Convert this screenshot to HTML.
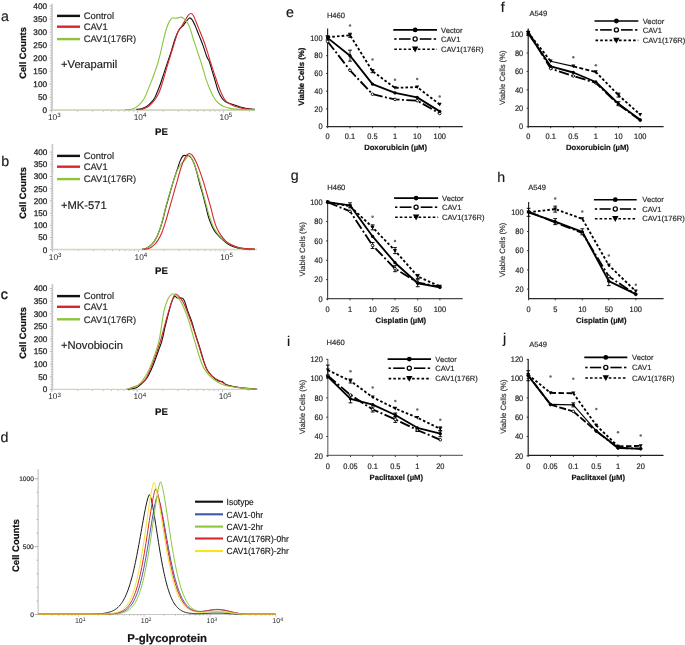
<!DOCTYPE html>
<html><head><meta charset="utf-8"><style>
html,body{margin:0;padding:0;background:#fff;}
svg{display:block;font-family:"Liberation Sans", sans-serif;will-change:transform;text-rendering:geometricPrecision;}
</style></head><body>
<svg width="685" height="645" viewBox="0 0 685 645">
<rect width="685" height="645" fill="#fff"/>
<text x="1.0" y="21.0" font-size="14.2" text-anchor="start" font-weight="normal" fill="#1a1a1a"  stroke="#1a1a1a" stroke-width="0.18">a</text>
<text x="1.3" y="165.8" font-size="14.2" text-anchor="start" font-weight="normal" fill="#1a1a1a"  stroke="#1a1a1a" stroke-width="0.18">b</text>
<text x="0.8" y="298.6" font-size="14.2" text-anchor="start" font-weight="normal" fill="#1a1a1a" stroke="#1a1a1a" stroke-width="0.45">c</text>
<text x="0.4" y="441.9" font-size="14.2" text-anchor="start" font-weight="normal" fill="#1a1a1a"  stroke="#1a1a1a" stroke-width="0.18">d</text>
<text x="286.0" y="16.9" font-size="14.2" text-anchor="start" font-weight="normal" fill="#1a1a1a"  stroke="#1a1a1a" stroke-width="0.18">e</text>
<text x="500.8" y="12.2" font-size="14.2" text-anchor="start" font-weight="normal" fill="#1a1a1a"  stroke="#1a1a1a" stroke-width="0.18">f</text>
<text x="290.8" y="180.3" font-size="14.2" text-anchor="start" font-weight="normal" fill="#1a1a1a"  stroke="#1a1a1a" stroke-width="0.18">g</text>
<text x="497.2" y="182.1" font-size="14.2" text-anchor="start" font-weight="normal" fill="#1a1a1a"  stroke="#1a1a1a" stroke-width="0.18">h</text>
<text x="286.9" y="345.8" font-size="14.2" text-anchor="start" font-weight="normal" fill="#1a1a1a"  stroke="#1a1a1a" stroke-width="0.18">i</text>
<text x="503.0" y="342.7" font-size="14.2" text-anchor="start" font-weight="normal" fill="#1a1a1a"  stroke="#1a1a1a" stroke-width="0.18">j</text>
<line x1="49.60" y1="110.20" x2="52.00" y2="110.20" stroke="#6a6a6a" stroke-width="0.55" />
<line x1="50.40" y1="107.60" x2="52.00" y2="107.60" stroke="#6a6a6a" stroke-width="0.55" />
<line x1="50.40" y1="105.00" x2="52.00" y2="105.00" stroke="#6a6a6a" stroke-width="0.55" />
<line x1="50.40" y1="102.39" x2="52.00" y2="102.39" stroke="#6a6a6a" stroke-width="0.55" />
<line x1="50.40" y1="99.79" x2="52.00" y2="99.79" stroke="#6a6a6a" stroke-width="0.55" />
<line x1="49.60" y1="97.19" x2="52.00" y2="97.19" stroke="#6a6a6a" stroke-width="0.55" />
<line x1="50.40" y1="94.59" x2="52.00" y2="94.59" stroke="#6a6a6a" stroke-width="0.55" />
<line x1="50.40" y1="91.98" x2="52.00" y2="91.98" stroke="#6a6a6a" stroke-width="0.55" />
<line x1="50.40" y1="89.38" x2="52.00" y2="89.38" stroke="#6a6a6a" stroke-width="0.55" />
<line x1="50.40" y1="86.78" x2="52.00" y2="86.78" stroke="#6a6a6a" stroke-width="0.55" />
<line x1="49.60" y1="84.17" x2="52.00" y2="84.17" stroke="#6a6a6a" stroke-width="0.55" />
<line x1="50.40" y1="81.57" x2="52.00" y2="81.57" stroke="#6a6a6a" stroke-width="0.55" />
<line x1="50.40" y1="78.97" x2="52.00" y2="78.97" stroke="#6a6a6a" stroke-width="0.55" />
<line x1="50.40" y1="76.37" x2="52.00" y2="76.37" stroke="#6a6a6a" stroke-width="0.55" />
<line x1="50.40" y1="73.77" x2="52.00" y2="73.77" stroke="#6a6a6a" stroke-width="0.55" />
<line x1="49.60" y1="71.16" x2="52.00" y2="71.16" stroke="#6a6a6a" stroke-width="0.55" />
<line x1="50.40" y1="68.56" x2="52.00" y2="68.56" stroke="#6a6a6a" stroke-width="0.55" />
<line x1="50.40" y1="65.96" x2="52.00" y2="65.96" stroke="#6a6a6a" stroke-width="0.55" />
<line x1="50.40" y1="63.35" x2="52.00" y2="63.35" stroke="#6a6a6a" stroke-width="0.55" />
<line x1="50.40" y1="60.75" x2="52.00" y2="60.75" stroke="#6a6a6a" stroke-width="0.55" />
<line x1="49.60" y1="58.15" x2="52.00" y2="58.15" stroke="#6a6a6a" stroke-width="0.55" />
<line x1="50.40" y1="55.55" x2="52.00" y2="55.55" stroke="#6a6a6a" stroke-width="0.55" />
<line x1="50.40" y1="52.94" x2="52.00" y2="52.94" stroke="#6a6a6a" stroke-width="0.55" />
<line x1="50.40" y1="50.34" x2="52.00" y2="50.34" stroke="#6a6a6a" stroke-width="0.55" />
<line x1="50.40" y1="47.74" x2="52.00" y2="47.74" stroke="#6a6a6a" stroke-width="0.55" />
<line x1="49.60" y1="45.14" x2="52.00" y2="45.14" stroke="#6a6a6a" stroke-width="0.55" />
<line x1="50.40" y1="42.53" x2="52.00" y2="42.53" stroke="#6a6a6a" stroke-width="0.55" />
<line x1="50.40" y1="39.93" x2="52.00" y2="39.93" stroke="#6a6a6a" stroke-width="0.55" />
<line x1="50.40" y1="37.33" x2="52.00" y2="37.33" stroke="#6a6a6a" stroke-width="0.55" />
<line x1="50.40" y1="34.73" x2="52.00" y2="34.73" stroke="#6a6a6a" stroke-width="0.55" />
<line x1="49.60" y1="32.12" x2="52.00" y2="32.12" stroke="#6a6a6a" stroke-width="0.55" />
<line x1="50.40" y1="29.52" x2="52.00" y2="29.52" stroke="#6a6a6a" stroke-width="0.55" />
<line x1="50.40" y1="26.92" x2="52.00" y2="26.92" stroke="#6a6a6a" stroke-width="0.55" />
<line x1="50.40" y1="24.32" x2="52.00" y2="24.32" stroke="#6a6a6a" stroke-width="0.55" />
<line x1="50.40" y1="21.71" x2="52.00" y2="21.71" stroke="#6a6a6a" stroke-width="0.55" />
<line x1="49.60" y1="19.11" x2="52.00" y2="19.11" stroke="#6a6a6a" stroke-width="0.55" />
<line x1="50.40" y1="16.51" x2="52.00" y2="16.51" stroke="#6a6a6a" stroke-width="0.55" />
<line x1="50.40" y1="13.91" x2="52.00" y2="13.91" stroke="#6a6a6a" stroke-width="0.55" />
<line x1="50.40" y1="11.30" x2="52.00" y2="11.30" stroke="#6a6a6a" stroke-width="0.55" />
<line x1="50.40" y1="8.70" x2="52.00" y2="8.70" stroke="#6a6a6a" stroke-width="0.55" />
<line x1="49.60" y1="6.10" x2="52.00" y2="6.10" stroke="#6a6a6a" stroke-width="0.55" />
<line x1="52.00" y1="3.70" x2="52.00" y2="110.20" stroke="#c8c8c8" stroke-width="1.7" />
<line x1="51.70" y1="110.20" x2="51.70" y2="112.70" stroke="#a0a0a0" stroke-width="0.7" />
<line x1="77.53" y1="110.20" x2="77.53" y2="111.70" stroke="#a0a0a0" stroke-width="0.7" />
<line x1="92.64" y1="110.20" x2="92.64" y2="111.70" stroke="#a0a0a0" stroke-width="0.7" />
<line x1="103.36" y1="110.20" x2="103.36" y2="111.70" stroke="#a0a0a0" stroke-width="0.7" />
<line x1="111.67" y1="110.20" x2="111.67" y2="111.70" stroke="#a0a0a0" stroke-width="0.7" />
<line x1="118.47" y1="110.20" x2="118.47" y2="111.70" stroke="#a0a0a0" stroke-width="0.7" />
<line x1="124.21" y1="110.20" x2="124.21" y2="111.70" stroke="#a0a0a0" stroke-width="0.7" />
<line x1="129.19" y1="110.20" x2="129.19" y2="111.70" stroke="#a0a0a0" stroke-width="0.7" />
<line x1="133.57" y1="110.20" x2="133.57" y2="111.70" stroke="#a0a0a0" stroke-width="0.7" />
<line x1="137.50" y1="110.20" x2="137.50" y2="112.70" stroke="#a0a0a0" stroke-width="0.7" />
<line x1="163.33" y1="110.20" x2="163.33" y2="111.70" stroke="#a0a0a0" stroke-width="0.7" />
<line x1="178.44" y1="110.20" x2="178.44" y2="111.70" stroke="#a0a0a0" stroke-width="0.7" />
<line x1="189.16" y1="110.20" x2="189.16" y2="111.70" stroke="#a0a0a0" stroke-width="0.7" />
<line x1="197.47" y1="110.20" x2="197.47" y2="111.70" stroke="#a0a0a0" stroke-width="0.7" />
<line x1="204.27" y1="110.20" x2="204.27" y2="111.70" stroke="#a0a0a0" stroke-width="0.7" />
<line x1="210.01" y1="110.20" x2="210.01" y2="111.70" stroke="#a0a0a0" stroke-width="0.7" />
<line x1="214.99" y1="110.20" x2="214.99" y2="111.70" stroke="#a0a0a0" stroke-width="0.7" />
<line x1="219.37" y1="110.20" x2="219.37" y2="111.70" stroke="#a0a0a0" stroke-width="0.7" />
<line x1="223.30" y1="110.20" x2="223.30" y2="112.70" stroke="#a0a0a0" stroke-width="0.7" />
<line x1="249.13" y1="110.20" x2="249.13" y2="111.70" stroke="#a0a0a0" stroke-width="0.7" />
<line x1="52.00" y1="110.20" x2="255.00" y2="110.20" stroke="#c8c8c8" stroke-width="1.2" />
<text x="47.0" y="113.0" font-size="8.2" text-anchor="end" font-weight="normal" fill="#1a1a1a" stroke="#1a1a1a" stroke-width="0.25">0</text>
<text x="47.0" y="100.0" font-size="8.2" text-anchor="end" font-weight="normal" fill="#1a1a1a" stroke="#1a1a1a" stroke-width="0.25">50</text>
<text x="47.0" y="87.0" font-size="8.2" text-anchor="end" font-weight="normal" fill="#1a1a1a" stroke="#1a1a1a" stroke-width="0.25">100</text>
<text x="47.0" y="74.0" font-size="8.2" text-anchor="end" font-weight="normal" fill="#1a1a1a" stroke="#1a1a1a" stroke-width="0.25">150</text>
<text x="47.0" y="61.0" font-size="8.2" text-anchor="end" font-weight="normal" fill="#1a1a1a" stroke="#1a1a1a" stroke-width="0.25">200</text>
<text x="47.0" y="48.0" font-size="8.2" text-anchor="end" font-weight="normal" fill="#1a1a1a" stroke="#1a1a1a" stroke-width="0.25">250</text>
<text x="47.0" y="34.9" font-size="8.2" text-anchor="end" font-weight="normal" fill="#1a1a1a" stroke="#1a1a1a" stroke-width="0.25">300</text>
<text x="47.0" y="21.9" font-size="8.2" text-anchor="end" font-weight="normal" fill="#1a1a1a" stroke="#1a1a1a" stroke-width="0.25">350</text>
<text x="47.0" y="8.9" font-size="8.2" text-anchor="end" font-weight="normal" fill="#1a1a1a" stroke="#1a1a1a" stroke-width="0.25">400</text>
<text x="54.3" y="120.0" font-size="8.3" text-anchor="middle" fill="#1e1e1e">10<tspan font-size="6.2" dy="-2.8">3</tspan></text>
<text x="140.1" y="120.0" font-size="8.3" text-anchor="middle" fill="#1e1e1e">10<tspan font-size="6.2" dy="-2.8">4</tspan></text>
<text x="225.9" y="120.0" font-size="8.3" text-anchor="middle" fill="#1e1e1e">10<tspan font-size="6.2" dy="-2.8">5</tspan></text>
<line x1="57.00" y1="15.90" x2="80.00" y2="15.90" stroke="#111" stroke-width="2.4" />
<text x="83.8" y="19.1" font-size="9.4" text-anchor="start" font-weight="normal" fill="#2a2a2a"  stroke="#2a2a2a" stroke-width="0.18">Control</text>
<line x1="57.00" y1="26.70" x2="80.00" y2="26.70" stroke="#d8262f" stroke-width="2.4" />
<text x="83.8" y="29.9" font-size="9.4" text-anchor="start" font-weight="normal" fill="#2a2a2a"  stroke="#2a2a2a" stroke-width="0.18">CAV1</text>
<line x1="57.00" y1="39.10" x2="80.00" y2="39.10" stroke="#8cc43c" stroke-width="2.4" />
<text x="83.8" y="42.3" font-size="9.4" text-anchor="start" font-weight="normal" fill="#2a2a2a"  stroke="#2a2a2a" stroke-width="0.18">CAV1(176R)</text>
<text x="61.0" y="67.5" font-size="11.2" text-anchor="start" font-weight="normal" fill="#222"  stroke="#222" stroke-width="0.18">+Verapamil</text>
<text x="161.4" y="134.7" font-size="9.6" text-anchor="middle" font-weight="bold" fill="#111"  stroke="#111" stroke-width="0.18">PE</text>
<text transform="translate(25.6,53.0) rotate(-90)" font-size="9.3" text-anchor="middle" font-weight="bold" fill="#111" stroke="#111" stroke-width="0.22">Cell Counts</text>
<line x1="52.80" y1="109.90" x2="255.00" y2="109.90" stroke="#d2dcb0" stroke-width="1.1" />
<path d="M136.39,109.38 C137.34,109.23 140.18,109.07 142.08,108.44 C143.98,107.80 145.88,107.01 147.77,105.59 C149.67,104.16 152.04,101.79 153.47,99.89 C154.89,98.00 155.21,96.73 156.32,94.20 C157.42,91.67 158.85,88.19 160.11,84.71 C161.38,81.23 162.64,77.12 163.91,73.32 C165.17,69.53 166.44,65.73 167.70,61.94 C168.97,58.14 170.23,54.50 171.50,50.55 C172.76,46.60 174.03,41.69 175.29,38.21 C176.56,34.73 177.82,31.73 179.09,29.67 C180.36,27.62 181.78,27.14 182.89,25.88 C183.99,24.61 184.63,23.41 185.73,22.08 C186.84,20.75 188.42,18.22 189.53,17.91 C190.64,17.59 191.43,18.85 192.38,20.18 C193.32,21.51 194.11,23.35 195.22,25.88 C196.33,28.41 197.75,32.20 199.02,35.37 C200.28,38.53 201.55,41.38 202.81,44.86 C204.08,48.34 205.50,53.40 206.61,56.24 C207.72,59.09 208.51,59.41 209.46,61.94 C210.41,64.47 211.35,68.26 212.30,71.43 C213.25,74.59 214.20,77.75 215.15,80.92 C216.10,84.08 216.89,87.56 218.00,90.41 C219.10,93.25 220.53,96.10 221.79,98.00 C223.06,99.89 224.01,100.78 225.59,101.79 C227.17,102.80 229.07,103.28 231.28,104.07 C233.50,104.86 236.34,105.81 238.87,106.54 C241.40,107.26 243.78,107.96 246.47,108.44 C249.15,108.91 253.58,109.23 255.01,109.38" fill="none" stroke="#111" stroke-width="1.1" stroke-linejoin="round"/>
<path d="M138.29,109.57 C139.23,109.42 142.08,109.29 143.98,108.62 C145.88,107.96 147.77,107.20 149.67,105.59 C151.57,103.98 153.78,101.16 155.37,98.95 C156.95,96.73 157.90,95.31 159.16,92.30 C160.43,89.30 161.69,85.03 162.96,80.92 C164.22,76.80 165.49,71.90 166.75,67.63 C168.02,63.36 169.28,59.41 170.55,55.29 C171.81,51.18 173.08,46.91 174.35,42.96 C175.61,39.00 176.88,34.42 178.14,31.57 C179.41,28.72 180.67,27.93 181.94,25.88 C183.20,23.82 184.63,21.07 185.73,19.23 C186.84,17.40 187.69,15.82 188.58,14.87 C189.47,13.92 190.26,13.45 191.05,13.54 C191.84,13.64 192.47,14.01 193.32,15.44 C194.18,16.86 195.06,19.39 196.17,22.08 C197.28,24.77 198.70,28.41 199.97,31.57 C201.23,34.73 202.50,37.58 203.76,41.06 C205.03,44.54 206.45,48.97 207.56,52.45 C208.67,55.93 209.30,58.46 210.41,61.94 C211.51,65.42 212.94,69.53 214.20,73.32 C215.47,77.12 216.73,81.23 218.00,84.71 C219.26,88.19 220.53,91.51 221.79,94.20 C223.06,96.89 224.01,99.10 225.59,100.84 C227.17,102.58 229.07,103.53 231.28,104.64 C233.50,105.75 236.34,106.76 238.87,107.49 C241.40,108.21 243.78,108.66 246.47,109.00 C249.15,109.35 253.58,109.48 255.01,109.57" fill="none" stroke="#d8262f" stroke-width="1.1" stroke-linejoin="round"/>
<path d="M125.00,109.76 C126.27,109.64 130.38,109.70 132.59,109.00 C134.81,108.31 136.39,107.26 138.29,105.59 C140.18,103.91 142.40,101.48 143.98,98.95 C145.56,96.42 146.51,93.41 147.77,90.41 C149.04,87.40 150.31,84.24 151.57,80.92 C152.84,77.59 154.26,73.64 155.37,70.48 C156.47,67.31 157.26,65.26 158.21,61.94 C159.16,58.62 160.11,54.50 161.06,50.55 C162.01,46.60 162.96,42.01 163.91,38.21 C164.86,34.42 165.80,30.62 166.75,27.77 C167.70,24.93 168.65,22.78 169.60,21.13 C170.55,19.49 171.50,18.38 172.45,17.91 C173.40,17.43 174.35,18.29 175.29,18.29 C176.24,18.29 177.19,18.10 178.14,17.91 C179.09,17.72 180.04,17.02 180.99,17.15 C181.94,17.27 182.73,17.68 183.83,18.66 C184.94,19.65 186.52,21.20 187.63,23.03 C188.74,24.86 189.53,26.98 190.48,29.67 C191.43,32.36 192.22,35.68 193.32,39.16 C194.43,42.64 195.85,46.75 197.12,50.55 C198.39,54.35 199.81,58.46 200.92,61.94 C202.02,65.42 202.81,68.26 203.76,71.43 C204.71,74.59 205.50,77.75 206.61,80.92 C207.72,84.08 209.14,87.56 210.41,90.41 C211.67,93.25 212.94,95.94 214.20,98.00 C215.47,100.05 216.42,101.32 218.00,102.74 C219.58,104.16 221.48,105.56 223.69,106.54 C225.90,107.52 228.75,108.15 231.28,108.62 C233.81,109.10 234.92,109.19 238.87,109.38 C242.83,109.57 252.32,109.70 255.01,109.76" fill="none" stroke="#8cc43c" stroke-width="1.1" stroke-linejoin="round"/>
<line x1="50.00" y1="249.70" x2="52.40" y2="249.70" stroke="#6a6a6a" stroke-width="0.55" />
<line x1="50.80" y1="247.26" x2="52.40" y2="247.26" stroke="#6a6a6a" stroke-width="0.55" />
<line x1="50.80" y1="244.82" x2="52.40" y2="244.82" stroke="#6a6a6a" stroke-width="0.55" />
<line x1="50.80" y1="242.38" x2="52.40" y2="242.38" stroke="#6a6a6a" stroke-width="0.55" />
<line x1="50.80" y1="239.94" x2="52.40" y2="239.94" stroke="#6a6a6a" stroke-width="0.55" />
<line x1="50.00" y1="237.50" x2="52.40" y2="237.50" stroke="#6a6a6a" stroke-width="0.55" />
<line x1="50.80" y1="235.06" x2="52.40" y2="235.06" stroke="#6a6a6a" stroke-width="0.55" />
<line x1="50.80" y1="232.62" x2="52.40" y2="232.62" stroke="#6a6a6a" stroke-width="0.55" />
<line x1="50.80" y1="230.18" x2="52.40" y2="230.18" stroke="#6a6a6a" stroke-width="0.55" />
<line x1="50.80" y1="227.74" x2="52.40" y2="227.74" stroke="#6a6a6a" stroke-width="0.55" />
<line x1="50.00" y1="225.30" x2="52.40" y2="225.30" stroke="#6a6a6a" stroke-width="0.55" />
<line x1="50.80" y1="222.86" x2="52.40" y2="222.86" stroke="#6a6a6a" stroke-width="0.55" />
<line x1="50.80" y1="220.42" x2="52.40" y2="220.42" stroke="#6a6a6a" stroke-width="0.55" />
<line x1="50.80" y1="217.98" x2="52.40" y2="217.98" stroke="#6a6a6a" stroke-width="0.55" />
<line x1="50.80" y1="215.54" x2="52.40" y2="215.54" stroke="#6a6a6a" stroke-width="0.55" />
<line x1="50.00" y1="213.10" x2="52.40" y2="213.10" stroke="#6a6a6a" stroke-width="0.55" />
<line x1="50.80" y1="210.66" x2="52.40" y2="210.66" stroke="#6a6a6a" stroke-width="0.55" />
<line x1="50.80" y1="208.22" x2="52.40" y2="208.22" stroke="#6a6a6a" stroke-width="0.55" />
<line x1="50.80" y1="205.78" x2="52.40" y2="205.78" stroke="#6a6a6a" stroke-width="0.55" />
<line x1="50.80" y1="203.34" x2="52.40" y2="203.34" stroke="#6a6a6a" stroke-width="0.55" />
<line x1="50.00" y1="200.90" x2="52.40" y2="200.90" stroke="#6a6a6a" stroke-width="0.55" />
<line x1="50.80" y1="198.46" x2="52.40" y2="198.46" stroke="#6a6a6a" stroke-width="0.55" />
<line x1="50.80" y1="196.02" x2="52.40" y2="196.02" stroke="#6a6a6a" stroke-width="0.55" />
<line x1="50.80" y1="193.58" x2="52.40" y2="193.58" stroke="#6a6a6a" stroke-width="0.55" />
<line x1="50.80" y1="191.14" x2="52.40" y2="191.14" stroke="#6a6a6a" stroke-width="0.55" />
<line x1="50.00" y1="188.70" x2="52.40" y2="188.70" stroke="#6a6a6a" stroke-width="0.55" />
<line x1="50.80" y1="186.26" x2="52.40" y2="186.26" stroke="#6a6a6a" stroke-width="0.55" />
<line x1="50.80" y1="183.82" x2="52.40" y2="183.82" stroke="#6a6a6a" stroke-width="0.55" />
<line x1="50.80" y1="181.38" x2="52.40" y2="181.38" stroke="#6a6a6a" stroke-width="0.55" />
<line x1="50.80" y1="178.94" x2="52.40" y2="178.94" stroke="#6a6a6a" stroke-width="0.55" />
<line x1="50.00" y1="176.50" x2="52.40" y2="176.50" stroke="#6a6a6a" stroke-width="0.55" />
<line x1="50.80" y1="174.06" x2="52.40" y2="174.06" stroke="#6a6a6a" stroke-width="0.55" />
<line x1="50.80" y1="171.62" x2="52.40" y2="171.62" stroke="#6a6a6a" stroke-width="0.55" />
<line x1="50.80" y1="169.18" x2="52.40" y2="169.18" stroke="#6a6a6a" stroke-width="0.55" />
<line x1="50.80" y1="166.74" x2="52.40" y2="166.74" stroke="#6a6a6a" stroke-width="0.55" />
<line x1="50.00" y1="164.30" x2="52.40" y2="164.30" stroke="#6a6a6a" stroke-width="0.55" />
<line x1="50.80" y1="161.86" x2="52.40" y2="161.86" stroke="#6a6a6a" stroke-width="0.55" />
<line x1="50.80" y1="159.42" x2="52.40" y2="159.42" stroke="#6a6a6a" stroke-width="0.55" />
<line x1="50.80" y1="156.98" x2="52.40" y2="156.98" stroke="#6a6a6a" stroke-width="0.55" />
<line x1="50.80" y1="154.54" x2="52.40" y2="154.54" stroke="#6a6a6a" stroke-width="0.55" />
<line x1="50.00" y1="152.10" x2="52.40" y2="152.10" stroke="#6a6a6a" stroke-width="0.55" />
<line x1="52.40" y1="144.00" x2="52.40" y2="249.70" stroke="#c8c8c8" stroke-width="1.7" />
<line x1="52.60" y1="249.70" x2="52.60" y2="252.20" stroke="#a0a0a0" stroke-width="0.7" />
<line x1="78.40" y1="249.70" x2="78.40" y2="251.20" stroke="#a0a0a0" stroke-width="0.7" />
<line x1="93.49" y1="249.70" x2="93.49" y2="251.20" stroke="#a0a0a0" stroke-width="0.7" />
<line x1="104.20" y1="249.70" x2="104.20" y2="251.20" stroke="#a0a0a0" stroke-width="0.7" />
<line x1="112.50" y1="249.70" x2="112.50" y2="251.20" stroke="#a0a0a0" stroke-width="0.7" />
<line x1="119.29" y1="249.70" x2="119.29" y2="251.20" stroke="#a0a0a0" stroke-width="0.7" />
<line x1="125.02" y1="249.70" x2="125.02" y2="251.20" stroke="#a0a0a0" stroke-width="0.7" />
<line x1="129.99" y1="249.70" x2="129.99" y2="251.20" stroke="#a0a0a0" stroke-width="0.7" />
<line x1="134.38" y1="249.70" x2="134.38" y2="251.20" stroke="#a0a0a0" stroke-width="0.7" />
<line x1="138.30" y1="249.70" x2="138.30" y2="252.20" stroke="#a0a0a0" stroke-width="0.7" />
<line x1="164.10" y1="249.70" x2="164.10" y2="251.20" stroke="#a0a0a0" stroke-width="0.7" />
<line x1="179.19" y1="249.70" x2="179.19" y2="251.20" stroke="#a0a0a0" stroke-width="0.7" />
<line x1="189.90" y1="249.70" x2="189.90" y2="251.20" stroke="#a0a0a0" stroke-width="0.7" />
<line x1="198.20" y1="249.70" x2="198.20" y2="251.20" stroke="#a0a0a0" stroke-width="0.7" />
<line x1="204.99" y1="249.70" x2="204.99" y2="251.20" stroke="#a0a0a0" stroke-width="0.7" />
<line x1="210.72" y1="249.70" x2="210.72" y2="251.20" stroke="#a0a0a0" stroke-width="0.7" />
<line x1="215.69" y1="249.70" x2="215.69" y2="251.20" stroke="#a0a0a0" stroke-width="0.7" />
<line x1="220.08" y1="249.70" x2="220.08" y2="251.20" stroke="#a0a0a0" stroke-width="0.7" />
<line x1="224.00" y1="249.70" x2="224.00" y2="252.20" stroke="#a0a0a0" stroke-width="0.7" />
<line x1="249.80" y1="249.70" x2="249.80" y2="251.20" stroke="#a0a0a0" stroke-width="0.7" />
<line x1="52.40" y1="249.70" x2="257.00" y2="249.70" stroke="#c8c8c8" stroke-width="1.2" />
<text x="47.4" y="252.5" font-size="8.2" text-anchor="end" font-weight="normal" fill="#1a1a1a" stroke="#1a1a1a" stroke-width="0.25">0</text>
<text x="47.4" y="240.3" font-size="8.2" text-anchor="end" font-weight="normal" fill="#1a1a1a" stroke="#1a1a1a" stroke-width="0.25">50</text>
<text x="47.4" y="228.1" font-size="8.2" text-anchor="end" font-weight="normal" fill="#1a1a1a" stroke="#1a1a1a" stroke-width="0.25">100</text>
<text x="47.4" y="215.9" font-size="8.2" text-anchor="end" font-weight="normal" fill="#1a1a1a" stroke="#1a1a1a" stroke-width="0.25">150</text>
<text x="47.4" y="203.7" font-size="8.2" text-anchor="end" font-weight="normal" fill="#1a1a1a" stroke="#1a1a1a" stroke-width="0.25">200</text>
<text x="47.4" y="191.5" font-size="8.2" text-anchor="end" font-weight="normal" fill="#1a1a1a" stroke="#1a1a1a" stroke-width="0.25">250</text>
<text x="47.4" y="179.3" font-size="8.2" text-anchor="end" font-weight="normal" fill="#1a1a1a" stroke="#1a1a1a" stroke-width="0.25">300</text>
<text x="47.4" y="167.1" font-size="8.2" text-anchor="end" font-weight="normal" fill="#1a1a1a" stroke="#1a1a1a" stroke-width="0.25">350</text>
<text x="47.4" y="154.9" font-size="8.2" text-anchor="end" font-weight="normal" fill="#1a1a1a" stroke="#1a1a1a" stroke-width="0.25">400</text>
<text x="55.2" y="259.5" font-size="8.3" text-anchor="middle" fill="#1e1e1e">10<tspan font-size="6.2" dy="-2.8">3</tspan></text>
<text x="140.9" y="259.5" font-size="8.3" text-anchor="middle" fill="#1e1e1e">10<tspan font-size="6.2" dy="-2.8">4</tspan></text>
<text x="226.6" y="259.5" font-size="8.3" text-anchor="middle" fill="#1e1e1e">10<tspan font-size="6.2" dy="-2.8">5</tspan></text>
<line x1="57.00" y1="155.90" x2="80.00" y2="155.90" stroke="#111" stroke-width="2.4" />
<text x="83.8" y="159.1" font-size="9.4" text-anchor="start" font-weight="normal" fill="#2a2a2a"  stroke="#2a2a2a" stroke-width="0.18">Control</text>
<line x1="57.00" y1="166.70" x2="80.00" y2="166.70" stroke="#d8262f" stroke-width="2.4" />
<text x="83.8" y="169.9" font-size="9.4" text-anchor="start" font-weight="normal" fill="#2a2a2a"  stroke="#2a2a2a" stroke-width="0.18">CAV1</text>
<line x1="57.00" y1="179.10" x2="80.00" y2="179.10" stroke="#8cc43c" stroke-width="2.4" />
<text x="83.8" y="182.3" font-size="9.4" text-anchor="start" font-weight="normal" fill="#2a2a2a"  stroke="#2a2a2a" stroke-width="0.18">CAV1(176R)</text>
<text x="61.0" y="209.4" font-size="11.2" text-anchor="start" font-weight="normal" fill="#222"  stroke="#222" stroke-width="0.18">+MK-571</text>
<text x="161.4" y="274.3" font-size="9.6" text-anchor="middle" font-weight="bold" fill="#111"  stroke="#111" stroke-width="0.18">PE</text>
<text transform="translate(25.6,193.0) rotate(-90)" font-size="9.3" text-anchor="middle" font-weight="bold" fill="#111" stroke="#111" stroke-width="0.22">Cell Counts</text>
<line x1="53.20" y1="249.40" x2="257.00" y2="249.40" stroke="#d2dcb0" stroke-width="1.1" />
<path d="M142.08,249.19 C142.71,249.07 144.30,249.19 145.88,248.44 C147.46,247.68 149.83,246.38 151.57,244.64 C153.31,242.90 154.89,240.69 156.32,238.00 C157.74,235.31 159.00,231.67 160.11,228.51 C161.22,225.34 162.01,222.50 162.96,219.02 C163.91,215.54 164.70,211.74 165.80,207.63 C166.91,203.52 168.34,198.77 169.60,194.35 C170.87,189.92 172.13,185.17 173.40,181.06 C174.66,176.95 176.08,172.99 177.19,169.67 C178.30,166.35 179.09,163.41 180.04,161.13 C180.99,158.85 181.94,156.96 182.89,156.01 C183.83,155.06 184.78,155.53 185.73,155.44 C186.68,155.34 187.63,154.96 188.58,155.44 C189.53,155.91 190.48,156.86 191.43,158.29 C192.38,159.71 193.32,161.45 194.27,163.98 C195.22,166.51 196.17,169.99 197.12,173.47 C198.07,176.95 199.02,181.38 199.97,184.86 C200.92,188.34 201.86,190.87 202.81,194.35 C203.76,197.82 204.71,201.94 205.66,205.73 C206.61,209.53 207.56,213.96 208.51,217.12 C209.46,220.28 210.41,222.50 211.35,224.71 C212.30,226.93 213.09,228.67 214.20,230.41 C215.31,232.14 216.73,233.73 218.00,235.15 C219.26,236.57 220.21,237.52 221.79,238.95 C223.37,240.37 225.27,242.33 227.49,243.69 C229.70,245.05 232.55,246.28 235.08,247.11 C237.61,247.93 239.35,248.28 242.67,248.62 C245.99,248.97 252.95,249.10 255.01,249.19" fill="none" stroke="#111" stroke-width="1.1" stroke-linejoin="round"/>
<path d="M142.08,249.19 C142.71,249.07 144.30,249.26 145.88,248.44 C147.46,247.61 149.83,246.06 151.57,244.26 C153.31,242.46 154.89,240.31 156.32,237.62 C157.74,234.93 159.00,231.39 160.11,228.13 C161.22,224.87 162.01,221.64 162.96,218.07 C163.91,214.49 164.70,210.79 165.80,206.68 C166.91,202.57 168.34,197.67 169.60,193.40 C170.87,189.13 172.13,184.86 173.40,181.06 C174.66,177.26 175.93,173.47 177.19,170.62 C178.46,167.77 179.72,165.72 180.99,163.98 C182.25,162.24 183.68,161.45 184.78,160.18 C185.89,158.92 186.84,157.18 187.63,156.39 C188.42,155.60 188.90,155.19 189.53,155.44 C190.16,155.69 190.64,156.48 191.43,157.91 C192.22,159.33 193.32,161.54 194.27,163.98 C195.22,166.41 196.17,169.51 197.12,172.52 C198.07,175.52 199.02,178.69 199.97,182.01 C200.92,185.33 201.86,188.97 202.81,192.45 C203.76,195.93 204.71,199.41 205.66,202.89 C206.61,206.37 207.56,210.16 208.51,213.32 C209.46,216.49 210.41,219.33 211.35,221.86 C212.30,224.40 213.09,226.45 214.20,228.51 C215.31,230.56 216.73,232.56 218.00,234.20 C219.26,235.85 220.21,236.95 221.79,238.38 C223.37,239.80 225.27,241.38 227.49,242.74 C229.70,244.10 232.55,245.59 235.08,246.54 C237.61,247.49 239.35,247.99 242.67,248.44 C245.99,248.88 252.95,249.07 255.01,249.19" fill="none" stroke="#8cc43c" stroke-width="1.1" stroke-linejoin="round"/>
<path d="M143.98,249.19 C144.77,249.07 147.14,249.04 148.72,248.44 C150.31,247.83 151.89,247.01 153.47,245.59 C155.05,244.16 156.79,242.11 158.21,239.89 C159.64,237.68 160.74,235.47 162.01,232.30 C163.27,229.14 164.54,225.03 165.80,220.92 C167.07,216.80 168.34,212.06 169.60,207.63 C170.87,203.20 172.13,198.77 173.40,194.35 C174.66,189.92 175.93,185.49 177.19,181.06 C178.46,176.63 179.72,171.57 180.99,167.77 C182.25,163.98 183.68,160.50 184.78,158.29 C185.89,156.07 186.84,155.28 187.63,154.49 C188.42,153.70 188.74,153.38 189.53,153.54 C190.32,153.70 191.27,154.01 192.38,155.44 C193.48,156.86 194.91,159.39 196.17,162.08 C197.44,164.77 198.70,168.09 199.97,171.57 C201.23,175.05 202.50,178.85 203.76,182.96 C205.03,187.07 206.29,191.81 207.56,196.24 C208.82,200.67 210.25,205.42 211.35,209.53 C212.46,213.64 213.25,217.75 214.20,220.92 C215.15,224.08 215.94,226.13 217.05,228.51 C218.15,230.88 219.42,233.09 220.84,235.15 C222.27,237.21 223.85,239.26 225.59,240.84 C227.33,242.43 229.07,243.53 231.28,244.64 C233.50,245.75 236.34,246.82 238.87,247.49 C241.40,248.15 243.78,248.34 246.47,248.62 C249.15,248.91 253.58,249.10 255.01,249.19" fill="none" stroke="#d8262f" stroke-width="1.1" stroke-linejoin="round"/>
<line x1="50.00" y1="389.50" x2="52.40" y2="389.50" stroke="#6a6a6a" stroke-width="0.55" />
<line x1="50.80" y1="386.98" x2="52.40" y2="386.98" stroke="#6a6a6a" stroke-width="0.55" />
<line x1="50.80" y1="384.45" x2="52.40" y2="384.45" stroke="#6a6a6a" stroke-width="0.55" />
<line x1="50.80" y1="381.93" x2="52.40" y2="381.93" stroke="#6a6a6a" stroke-width="0.55" />
<line x1="50.80" y1="379.40" x2="52.40" y2="379.40" stroke="#6a6a6a" stroke-width="0.55" />
<line x1="50.00" y1="376.88" x2="52.40" y2="376.88" stroke="#6a6a6a" stroke-width="0.55" />
<line x1="50.80" y1="374.35" x2="52.40" y2="374.35" stroke="#6a6a6a" stroke-width="0.55" />
<line x1="50.80" y1="371.82" x2="52.40" y2="371.82" stroke="#6a6a6a" stroke-width="0.55" />
<line x1="50.80" y1="369.30" x2="52.40" y2="369.30" stroke="#6a6a6a" stroke-width="0.55" />
<line x1="50.80" y1="366.77" x2="52.40" y2="366.77" stroke="#6a6a6a" stroke-width="0.55" />
<line x1="50.00" y1="364.25" x2="52.40" y2="364.25" stroke="#6a6a6a" stroke-width="0.55" />
<line x1="50.80" y1="361.73" x2="52.40" y2="361.73" stroke="#6a6a6a" stroke-width="0.55" />
<line x1="50.80" y1="359.20" x2="52.40" y2="359.20" stroke="#6a6a6a" stroke-width="0.55" />
<line x1="50.80" y1="356.68" x2="52.40" y2="356.68" stroke="#6a6a6a" stroke-width="0.55" />
<line x1="50.80" y1="354.15" x2="52.40" y2="354.15" stroke="#6a6a6a" stroke-width="0.55" />
<line x1="50.00" y1="351.62" x2="52.40" y2="351.62" stroke="#6a6a6a" stroke-width="0.55" />
<line x1="50.80" y1="349.10" x2="52.40" y2="349.10" stroke="#6a6a6a" stroke-width="0.55" />
<line x1="50.80" y1="346.57" x2="52.40" y2="346.57" stroke="#6a6a6a" stroke-width="0.55" />
<line x1="50.80" y1="344.05" x2="52.40" y2="344.05" stroke="#6a6a6a" stroke-width="0.55" />
<line x1="50.80" y1="341.52" x2="52.40" y2="341.52" stroke="#6a6a6a" stroke-width="0.55" />
<line x1="50.00" y1="339.00" x2="52.40" y2="339.00" stroke="#6a6a6a" stroke-width="0.55" />
<line x1="50.80" y1="336.48" x2="52.40" y2="336.48" stroke="#6a6a6a" stroke-width="0.55" />
<line x1="50.80" y1="333.95" x2="52.40" y2="333.95" stroke="#6a6a6a" stroke-width="0.55" />
<line x1="50.80" y1="331.43" x2="52.40" y2="331.43" stroke="#6a6a6a" stroke-width="0.55" />
<line x1="50.80" y1="328.90" x2="52.40" y2="328.90" stroke="#6a6a6a" stroke-width="0.55" />
<line x1="50.00" y1="326.38" x2="52.40" y2="326.38" stroke="#6a6a6a" stroke-width="0.55" />
<line x1="50.80" y1="323.85" x2="52.40" y2="323.85" stroke="#6a6a6a" stroke-width="0.55" />
<line x1="50.80" y1="321.32" x2="52.40" y2="321.32" stroke="#6a6a6a" stroke-width="0.55" />
<line x1="50.80" y1="318.80" x2="52.40" y2="318.80" stroke="#6a6a6a" stroke-width="0.55" />
<line x1="50.80" y1="316.27" x2="52.40" y2="316.27" stroke="#6a6a6a" stroke-width="0.55" />
<line x1="50.00" y1="313.75" x2="52.40" y2="313.75" stroke="#6a6a6a" stroke-width="0.55" />
<line x1="50.80" y1="311.23" x2="52.40" y2="311.23" stroke="#6a6a6a" stroke-width="0.55" />
<line x1="50.80" y1="308.70" x2="52.40" y2="308.70" stroke="#6a6a6a" stroke-width="0.55" />
<line x1="50.80" y1="306.18" x2="52.40" y2="306.18" stroke="#6a6a6a" stroke-width="0.55" />
<line x1="50.80" y1="303.65" x2="52.40" y2="303.65" stroke="#6a6a6a" stroke-width="0.55" />
<line x1="50.00" y1="301.12" x2="52.40" y2="301.12" stroke="#6a6a6a" stroke-width="0.55" />
<line x1="50.80" y1="298.60" x2="52.40" y2="298.60" stroke="#6a6a6a" stroke-width="0.55" />
<line x1="50.80" y1="296.07" x2="52.40" y2="296.07" stroke="#6a6a6a" stroke-width="0.55" />
<line x1="50.80" y1="293.55" x2="52.40" y2="293.55" stroke="#6a6a6a" stroke-width="0.55" />
<line x1="50.80" y1="291.02" x2="52.40" y2="291.02" stroke="#6a6a6a" stroke-width="0.55" />
<line x1="50.00" y1="288.50" x2="52.40" y2="288.50" stroke="#6a6a6a" stroke-width="0.55" />
<line x1="52.40" y1="284.00" x2="52.40" y2="389.50" stroke="#c8c8c8" stroke-width="1.7" />
<line x1="51.90" y1="389.50" x2="51.90" y2="392.00" stroke="#a0a0a0" stroke-width="0.7" />
<line x1="77.58" y1="389.50" x2="77.58" y2="391.00" stroke="#a0a0a0" stroke-width="0.7" />
<line x1="92.60" y1="389.50" x2="92.60" y2="391.00" stroke="#a0a0a0" stroke-width="0.7" />
<line x1="103.26" y1="389.50" x2="103.26" y2="391.00" stroke="#a0a0a0" stroke-width="0.7" />
<line x1="111.52" y1="389.50" x2="111.52" y2="391.00" stroke="#a0a0a0" stroke-width="0.7" />
<line x1="118.28" y1="389.50" x2="118.28" y2="391.00" stroke="#a0a0a0" stroke-width="0.7" />
<line x1="123.99" y1="389.50" x2="123.99" y2="391.00" stroke="#a0a0a0" stroke-width="0.7" />
<line x1="128.93" y1="389.50" x2="128.93" y2="391.00" stroke="#a0a0a0" stroke-width="0.7" />
<line x1="133.30" y1="389.50" x2="133.30" y2="391.00" stroke="#a0a0a0" stroke-width="0.7" />
<line x1="137.20" y1="389.50" x2="137.20" y2="392.00" stroke="#a0a0a0" stroke-width="0.7" />
<line x1="162.88" y1="389.50" x2="162.88" y2="391.00" stroke="#a0a0a0" stroke-width="0.7" />
<line x1="177.90" y1="389.50" x2="177.90" y2="391.00" stroke="#a0a0a0" stroke-width="0.7" />
<line x1="188.56" y1="389.50" x2="188.56" y2="391.00" stroke="#a0a0a0" stroke-width="0.7" />
<line x1="196.82" y1="389.50" x2="196.82" y2="391.00" stroke="#a0a0a0" stroke-width="0.7" />
<line x1="203.58" y1="389.50" x2="203.58" y2="391.00" stroke="#a0a0a0" stroke-width="0.7" />
<line x1="209.29" y1="389.50" x2="209.29" y2="391.00" stroke="#a0a0a0" stroke-width="0.7" />
<line x1="214.23" y1="389.50" x2="214.23" y2="391.00" stroke="#a0a0a0" stroke-width="0.7" />
<line x1="218.60" y1="389.50" x2="218.60" y2="391.00" stroke="#a0a0a0" stroke-width="0.7" />
<line x1="222.50" y1="389.50" x2="222.50" y2="392.00" stroke="#a0a0a0" stroke-width="0.7" />
<line x1="248.18" y1="389.50" x2="248.18" y2="391.00" stroke="#a0a0a0" stroke-width="0.7" />
<line x1="52.40" y1="389.50" x2="258.00" y2="389.50" stroke="#c8c8c8" stroke-width="1.2" />
<text x="47.4" y="392.3" font-size="8.2" text-anchor="end" font-weight="normal" fill="#1a1a1a" stroke="#1a1a1a" stroke-width="0.25">0</text>
<text x="47.4" y="379.7" font-size="8.2" text-anchor="end" font-weight="normal" fill="#1a1a1a" stroke="#1a1a1a" stroke-width="0.25">50</text>
<text x="47.4" y="367.1" font-size="8.2" text-anchor="end" font-weight="normal" fill="#1a1a1a" stroke="#1a1a1a" stroke-width="0.25">100</text>
<text x="47.4" y="354.4" font-size="8.2" text-anchor="end" font-weight="normal" fill="#1a1a1a" stroke="#1a1a1a" stroke-width="0.25">150</text>
<text x="47.4" y="341.8" font-size="8.2" text-anchor="end" font-weight="normal" fill="#1a1a1a" stroke="#1a1a1a" stroke-width="0.25">200</text>
<text x="47.4" y="329.2" font-size="8.2" text-anchor="end" font-weight="normal" fill="#1a1a1a" stroke="#1a1a1a" stroke-width="0.25">250</text>
<text x="47.4" y="316.6" font-size="8.2" text-anchor="end" font-weight="normal" fill="#1a1a1a" stroke="#1a1a1a" stroke-width="0.25">300</text>
<text x="47.4" y="303.9" font-size="8.2" text-anchor="end" font-weight="normal" fill="#1a1a1a" stroke="#1a1a1a" stroke-width="0.25">350</text>
<text x="47.4" y="291.3" font-size="8.2" text-anchor="end" font-weight="normal" fill="#1a1a1a" stroke="#1a1a1a" stroke-width="0.25">400</text>
<text x="54.5" y="399.3" font-size="8.3" text-anchor="middle" fill="#1e1e1e">10<tspan font-size="6.2" dy="-2.8">3</tspan></text>
<text x="139.8" y="399.3" font-size="8.3" text-anchor="middle" fill="#1e1e1e">10<tspan font-size="6.2" dy="-2.8">4</tspan></text>
<text x="225.1" y="399.3" font-size="8.3" text-anchor="middle" fill="#1e1e1e">10<tspan font-size="6.2" dy="-2.8">5</tspan></text>
<line x1="57.00" y1="296.10" x2="80.00" y2="296.10" stroke="#111" stroke-width="2.4" />
<text x="83.8" y="299.3" font-size="9.4" text-anchor="start" font-weight="normal" fill="#2a2a2a"  stroke="#2a2a2a" stroke-width="0.18">Control</text>
<line x1="57.00" y1="306.80" x2="80.00" y2="306.80" stroke="#d8262f" stroke-width="2.4" />
<text x="83.8" y="310.0" font-size="9.4" text-anchor="start" font-weight="normal" fill="#2a2a2a"  stroke="#2a2a2a" stroke-width="0.18">CAV1</text>
<line x1="57.00" y1="319.30" x2="80.00" y2="319.30" stroke="#8cc43c" stroke-width="2.4" />
<text x="83.8" y="322.5" font-size="9.4" text-anchor="start" font-weight="normal" fill="#2a2a2a"  stroke="#2a2a2a" stroke-width="0.18">CAV1(176R)</text>
<text x="61.0" y="348.8" font-size="11.2" text-anchor="start" font-weight="normal" fill="#222"  stroke="#222" stroke-width="0.18">+Novobiocin</text>
<text x="161.4" y="414.5" font-size="9.6" text-anchor="middle" font-weight="bold" fill="#111"  stroke="#111" stroke-width="0.18">PE</text>
<text transform="translate(25.6,333.0) rotate(-90)" font-size="9.3" text-anchor="middle" font-weight="bold" fill="#111" stroke="#111" stroke-width="0.22">Cell Counts</text>
<line x1="53.20" y1="389.20" x2="258.00" y2="389.20" stroke="#d2dcb0" stroke-width="1.1" />
<path d="M128.17,389.34 C129.54,389.07 134.31,388.49 136.35,387.70 C138.39,386.92 138.73,386.17 140.44,384.64 C142.14,383.11 144.52,381.57 146.57,378.51 C148.61,375.44 150.66,371.08 152.70,366.25 C154.74,361.41 157.30,353.71 158.83,349.49 C160.36,345.26 160.87,344.58 161.90,340.90 C162.92,337.22 163.77,332.39 164.96,327.41 C166.15,322.44 167.86,315.49 169.05,311.06 C170.24,306.64 171.16,303.30 172.12,300.85 C173.07,298.39 173.92,296.83 174.77,296.35 C175.62,295.87 176.13,297.71 177.22,297.98 C178.31,298.26 180.12,297.54 181.31,297.98 C182.50,298.43 183.36,298.60 184.38,300.64 C185.40,302.69 186.25,306.88 187.44,310.25 C188.64,313.62 190.17,316.79 191.53,320.87 C192.89,324.96 194.26,330.34 195.62,334.77 C196.98,339.20 198.34,343.02 199.71,347.44 C201.07,351.87 202.60,357.66 203.79,361.34 C204.99,365.02 205.50,367.06 206.86,369.52 C208.22,371.97 210.09,374.18 211.97,376.06 C213.84,377.93 216.40,379.84 218.10,380.76 C219.80,381.68 220.82,380.89 222.19,381.57 C223.55,382.25 224.23,383.99 226.27,384.84 C228.32,385.70 231.04,386.10 234.45,386.68 C237.86,387.26 242.96,387.88 246.71,388.32 C250.46,388.76 255.23,389.17 256.93,389.34" fill="none" stroke="#111" stroke-width="1.1" stroke-linejoin="round"/>
<path d="M127.15,389.34 C129.20,388.56 136.35,386.34 139.42,384.64 C142.48,382.94 143.50,382.25 145.55,379.12 C147.59,375.99 149.29,371.87 151.68,365.84 C154.06,359.81 157.30,351.12 159.85,342.95 C162.41,334.77 164.96,323.87 167.01,316.79 C169.05,309.70 170.75,304.18 172.12,300.44 C173.48,296.69 174.16,295.12 175.18,294.31 C176.20,293.49 176.88,294.17 178.25,295.53 C179.61,296.89 181.65,299.28 183.36,302.48 C185.06,305.68 186.76,310.32 188.47,314.74 C190.17,319.17 191.87,323.94 193.57,329.05 C195.28,334.16 196.98,339.95 198.68,345.40 C200.39,350.85 202.26,357.49 203.79,361.75 C205.33,366.01 206.18,368.29 207.88,370.95 C209.58,373.60 211.63,375.82 214.01,377.69 C216.40,379.56 219.46,380.79 222.19,382.19 C224.91,383.58 226.96,385.08 230.36,386.07 C233.77,387.06 238.20,387.57 242.62,388.11 C247.05,388.66 254.55,389.14 256.93,389.34" fill="none" stroke="#d8262f" stroke-width="1.1" stroke-linejoin="round"/>
<path d="M126.13,389.34 C127.49,389.00 131.92,388.32 134.31,387.30 C136.69,386.27 138.56,385.08 140.44,383.21 C142.31,381.34 143.84,378.95 145.55,376.06 C147.25,373.16 148.44,371.63 150.66,365.84 C152.87,360.05 156.62,350.44 158.83,341.31 C161.05,332.18 162.41,318.15 163.94,311.06 C165.47,303.98 166.67,301.66 168.03,298.80 C169.39,295.94 170.75,294.44 172.12,293.90 C173.48,293.35 174.67,294.10 176.20,295.53 C177.74,296.96 179.44,298.94 181.31,302.48 C183.19,306.02 185.40,311.00 187.44,316.79 C189.49,322.58 191.53,330.41 193.57,337.22 C195.62,344.04 198.00,352.55 199.71,357.66 C201.41,362.77 202.09,364.82 203.79,367.88 C205.50,370.95 207.54,373.67 209.92,376.06 C212.31,378.44 215.37,380.59 218.10,382.19 C220.82,383.79 222.19,384.67 226.27,385.66 C230.36,386.65 237.51,387.50 242.62,388.11 C247.73,388.73 254.55,389.14 256.93,389.34" fill="none" stroke="#8cc43c" stroke-width="1.1" stroke-linejoin="round"/>
<line x1="38.10" y1="469.00" x2="38.10" y2="614.50" stroke="#b4b4b4" stroke-width="0.9" />
<line x1="38.10" y1="614.50" x2="275.50" y2="614.50" stroke="#c0c0c0" stroke-width="0.9" />
<line x1="36.50" y1="600.93" x2="38.10" y2="600.93" stroke="#a0a0a0" stroke-width="0.7" />
<line x1="36.50" y1="587.36" x2="38.10" y2="587.36" stroke="#a0a0a0" stroke-width="0.7" />
<line x1="36.50" y1="573.79" x2="38.10" y2="573.79" stroke="#a0a0a0" stroke-width="0.7" />
<line x1="36.50" y1="560.22" x2="38.10" y2="560.22" stroke="#a0a0a0" stroke-width="0.7" />
<line x1="36.50" y1="533.08" x2="38.10" y2="533.08" stroke="#a0a0a0" stroke-width="0.7" />
<line x1="36.50" y1="519.51" x2="38.10" y2="519.51" stroke="#a0a0a0" stroke-width="0.7" />
<line x1="36.50" y1="505.94" x2="38.10" y2="505.94" stroke="#a0a0a0" stroke-width="0.7" />
<line x1="36.50" y1="492.37" x2="38.10" y2="492.37" stroke="#a0a0a0" stroke-width="0.7" />
<line x1="34.70" y1="614.50" x2="38.10" y2="614.50" stroke="#9a9a9a" stroke-width="0.8" />
<text x="33.8" y="616.8" font-size="6.6" text-anchor="end" font-weight="normal" fill="#2a2a2a"  stroke="#2a2a2a" stroke-width="0.18">0</text>
<line x1="34.70" y1="546.65" x2="38.10" y2="546.65" stroke="#9a9a9a" stroke-width="0.8" />
<text x="33.8" y="548.9" font-size="6.6" text-anchor="end" font-weight="normal" fill="#2a2a2a"  stroke="#2a2a2a" stroke-width="0.18">500</text>
<line x1="34.70" y1="478.80" x2="38.10" y2="478.80" stroke="#9a9a9a" stroke-width="0.8" />
<text x="33.8" y="481.1" font-size="6.6" text-anchor="end" font-weight="normal" fill="#2a2a2a"  stroke="#2a2a2a" stroke-width="0.18">1000</text>
<line x1="43.89" y1="614.50" x2="43.89" y2="615.80" stroke="#a8a8a8" stroke-width="0.6" />
<line x1="52.12" y1="614.50" x2="52.12" y2="615.80" stroke="#a8a8a8" stroke-width="0.6" />
<line x1="58.49" y1="614.50" x2="58.49" y2="615.80" stroke="#a8a8a8" stroke-width="0.6" />
<line x1="63.70" y1="614.50" x2="63.70" y2="615.80" stroke="#a8a8a8" stroke-width="0.6" />
<line x1="68.11" y1="614.50" x2="68.11" y2="615.80" stroke="#a8a8a8" stroke-width="0.6" />
<line x1="71.92" y1="614.50" x2="71.92" y2="615.80" stroke="#a8a8a8" stroke-width="0.6" />
<line x1="75.29" y1="614.50" x2="75.29" y2="615.80" stroke="#a8a8a8" stroke-width="0.6" />
<line x1="78.30" y1="614.50" x2="78.30" y2="616.90" stroke="#a8a8a8" stroke-width="0.6" />
<line x1="98.11" y1="614.50" x2="98.11" y2="615.80" stroke="#a8a8a8" stroke-width="0.6" />
<line x1="109.69" y1="614.50" x2="109.69" y2="615.80" stroke="#a8a8a8" stroke-width="0.6" />
<line x1="117.92" y1="614.50" x2="117.92" y2="615.80" stroke="#a8a8a8" stroke-width="0.6" />
<line x1="124.29" y1="614.50" x2="124.29" y2="615.80" stroke="#a8a8a8" stroke-width="0.6" />
<line x1="129.50" y1="614.50" x2="129.50" y2="615.80" stroke="#a8a8a8" stroke-width="0.6" />
<line x1="133.91" y1="614.50" x2="133.91" y2="615.80" stroke="#a8a8a8" stroke-width="0.6" />
<line x1="137.72" y1="614.50" x2="137.72" y2="615.80" stroke="#a8a8a8" stroke-width="0.6" />
<line x1="141.09" y1="614.50" x2="141.09" y2="615.80" stroke="#a8a8a8" stroke-width="0.6" />
<line x1="144.10" y1="614.50" x2="144.10" y2="616.90" stroke="#a8a8a8" stroke-width="0.6" />
<line x1="163.91" y1="614.50" x2="163.91" y2="615.80" stroke="#a8a8a8" stroke-width="0.6" />
<line x1="175.49" y1="614.50" x2="175.49" y2="615.80" stroke="#a8a8a8" stroke-width="0.6" />
<line x1="183.72" y1="614.50" x2="183.72" y2="615.80" stroke="#a8a8a8" stroke-width="0.6" />
<line x1="190.09" y1="614.50" x2="190.09" y2="615.80" stroke="#a8a8a8" stroke-width="0.6" />
<line x1="195.30" y1="614.50" x2="195.30" y2="615.80" stroke="#a8a8a8" stroke-width="0.6" />
<line x1="199.71" y1="614.50" x2="199.71" y2="615.80" stroke="#a8a8a8" stroke-width="0.6" />
<line x1="203.52" y1="614.50" x2="203.52" y2="615.80" stroke="#a8a8a8" stroke-width="0.6" />
<line x1="206.89" y1="614.50" x2="206.89" y2="615.80" stroke="#a8a8a8" stroke-width="0.6" />
<line x1="209.90" y1="614.50" x2="209.90" y2="616.90" stroke="#a8a8a8" stroke-width="0.6" />
<line x1="229.71" y1="614.50" x2="229.71" y2="615.80" stroke="#a8a8a8" stroke-width="0.6" />
<line x1="241.29" y1="614.50" x2="241.29" y2="615.80" stroke="#a8a8a8" stroke-width="0.6" />
<line x1="249.52" y1="614.50" x2="249.52" y2="615.80" stroke="#a8a8a8" stroke-width="0.6" />
<line x1="255.89" y1="614.50" x2="255.89" y2="615.80" stroke="#a8a8a8" stroke-width="0.6" />
<line x1="261.10" y1="614.50" x2="261.10" y2="615.80" stroke="#a8a8a8" stroke-width="0.6" />
<line x1="265.51" y1="614.50" x2="265.51" y2="615.80" stroke="#a8a8a8" stroke-width="0.6" />
<line x1="269.32" y1="614.50" x2="269.32" y2="615.80" stroke="#a8a8a8" stroke-width="0.6" />
<line x1="272.69" y1="614.50" x2="272.69" y2="615.80" stroke="#a8a8a8" stroke-width="0.6" />
<line x1="275.70" y1="614.50" x2="275.70" y2="616.90" stroke="#a8a8a8" stroke-width="0.6" />
<text x="80.3" y="623.1" font-size="7.0" text-anchor="middle" fill="#2a2a2a">10<tspan font-size="5.2" dy="-2.5">1</tspan></text>
<text x="146.1" y="623.1" font-size="7.0" text-anchor="middle" fill="#2a2a2a">10<tspan font-size="5.2" dy="-2.5">2</tspan></text>
<text x="211.9" y="623.1" font-size="7.0" text-anchor="middle" fill="#2a2a2a">10<tspan font-size="5.2" dy="-2.5">3</tspan></text>
<text x="277.7" y="623.1" font-size="7.0" text-anchor="middle" fill="#2a2a2a">10<tspan font-size="5.2" dy="-2.5">4</tspan></text>
<text transform="translate(19.3,545.6) rotate(-90)" font-size="9.5" text-anchor="middle" font-weight="bold" fill="#111" stroke="#111" stroke-width="0.22">Cell Counts</text>
<text x="167.2" y="641.7" font-size="11.4" text-anchor="middle" font-weight="bold" fill="#111"  stroke="#111" stroke-width="0.18">P-glycoprotein</text>
<line x1="195.00" y1="501.70" x2="223.00" y2="501.70" stroke="#111" stroke-width="2.1" />
<text transform="translate(226.6,504.9) scale(0.95,1)" font-size="8.9" fill="#151515" stroke="#151515" stroke-width="0.15">Isotype</text>
<line x1="195.00" y1="514.30" x2="223.00" y2="514.30" stroke="#3b5ba8" stroke-width="2.1" />
<text transform="translate(226.6,517.5) scale(0.95,1)" font-size="8.9" fill="#151515" stroke="#151515" stroke-width="0.15">CAV1-0hr</text>
<line x1="195.00" y1="526.60" x2="223.00" y2="526.60" stroke="#8cc63f" stroke-width="2.1" />
<text transform="translate(226.6,529.8) scale(0.95,1)" font-size="8.9" fill="#151515" stroke="#151515" stroke-width="0.15">CAV1-2hr</text>
<line x1="195.00" y1="538.50" x2="223.00" y2="538.50" stroke="#e0242c" stroke-width="2.1" />
<text transform="translate(226.6,541.7) scale(0.95,1)" font-size="8.9" fill="#151515" stroke="#151515" stroke-width="0.15">CAV1(176R)-0hr</text>
<line x1="195.00" y1="551.00" x2="223.00" y2="551.00" stroke="#f4e520" stroke-width="2.1" />
<text transform="translate(226.6,554.2) scale(0.95,1)" font-size="8.9" fill="#151515" stroke="#151515" stroke-width="0.15">CAV1(176R)-2hr</text>
<polyline points="38.1,614.2 38.8,614.2 39.5,614.2 40.2,614.2 40.9,614.2 41.6,614.2 42.3,614.2 43.0,614.2 43.7,614.2 44.4,614.2 45.1,614.2 45.8,614.2 46.5,614.2 47.2,614.2 47.9,614.2 48.6,614.2 49.3,614.2 50.0,614.2 50.7,614.2 51.4,614.2 52.1,614.2 52.8,614.2 53.5,614.2 54.2,614.2 54.9,614.2 55.6,614.2 56.3,614.2 57.0,614.2 57.7,614.2 58.4,614.2 59.1,614.2 59.8,614.2 60.5,614.2 61.2,614.2 61.9,614.2 62.6,614.2 63.3,614.2 64.0,614.2 64.7,614.2 65.4,614.2 66.1,614.2 66.8,614.2 67.5,614.2 68.2,614.2 68.9,614.2 69.6,614.2 70.3,614.2 71.0,614.2 71.7,614.2 72.4,614.2 73.1,614.2 73.8,614.2 74.5,614.2 75.2,614.2 75.9,614.2 76.6,614.2 77.3,614.2 78.0,614.2 78.7,614.2 79.4,614.2 80.1,614.2 80.8,614.2 81.5,614.2 82.2,614.2 82.9,614.2 83.6,614.2 84.3,614.2 85.0,614.2 85.7,614.2 86.4,614.2 87.1,614.2 87.8,614.2 88.5,614.2 89.2,614.2 89.9,614.2 90.6,614.2 91.3,614.2 92.0,614.1 92.7,614.1 93.4,614.1 94.1,614.1 94.8,614.0 95.5,614.0 96.2,614.0 96.9,613.9 97.6,613.9 98.3,613.8 99.0,613.8 99.7,613.7 100.4,613.7 101.1,613.6 101.8,613.5 102.5,613.5 103.2,613.4 103.9,613.3 104.6,613.2 105.3,613.1 106.0,612.9 106.7,612.8 107.4,612.7 108.1,612.5 108.8,612.3 109.5,612.1 110.2,611.9 110.9,611.6 111.6,611.4 112.3,611.1 113.0,610.7 113.7,610.4 114.4,610.0 115.1,609.5 115.8,609.1 116.5,608.6 117.2,608.0 117.9,607.4 118.6,606.7 119.3,606.0 120.0,605.2 120.7,604.3 121.4,603.4 122.1,602.4 122.8,601.3 123.5,600.1 124.2,598.8 124.9,597.4 125.6,596.0 126.3,594.4 127.0,592.7 127.7,590.9 128.4,589.0 129.1,586.9 129.8,584.7 130.5,582.4 131.2,580.0 131.9,577.4 132.6,574.7 133.3,571.8 134.0,568.8 134.7,565.7 135.4,562.4 136.1,559.0 136.8,555.5 137.5,551.9 138.2,548.2 138.9,544.4 139.6,540.5 140.3,536.6 141.0,532.6 141.7,528.6 142.4,524.7 143.1,520.7 143.8,516.9 144.5,513.1 145.2,509.5 145.9,506.1 146.6,502.9 147.3,500.1 148.0,497.6 148.7,495.7 149.4,494.6 150.1,495.5 150.8,497.6 151.5,500.3 152.2,503.6 152.9,507.3 153.6,511.3 154.3,515.5 155.0,519.9 155.7,524.4 156.4,528.9 157.1,533.4 157.8,537.9 158.5,542.4 159.2,546.7 159.9,551.0 160.6,555.1 161.3,559.1 162.0,562.9 162.7,566.6 163.4,570.1 164.1,573.4 164.8,576.6 165.5,579.5 166.2,582.3 166.9,585.0 167.6,587.4 168.3,589.7 169.0,591.8 169.7,593.8 170.4,595.6 171.1,597.3 171.8,598.9 172.5,600.3 173.2,601.7 173.9,602.9 174.6,604.0 175.3,605.0 176.0,605.9 176.7,606.7 177.4,607.5 178.1,608.2 178.8,608.8 179.5,609.3 180.2,609.8 180.9,610.3 181.6,610.7 182.3,611.1 183.0,611.4 183.7,611.7 184.4,612.0 185.1,612.2 185.8,612.4 186.5,612.6 187.2,612.8 187.9,612.9 188.6,613.0 189.3,613.2 190.0,613.3 190.7,613.3 191.4,613.4 192.1,613.5 192.8,613.5 193.5,613.6 194.2,613.6 194.9,613.7 195.6,613.7 196.3,613.7 197.0,613.7 197.7,613.7 198.4,613.7 199.1,613.7 199.8,613.7 200.5,613.7 201.2,613.7 201.9,613.6 202.6,613.6 203.3,613.6 204.0,613.6 204.7,613.5 205.4,613.5 206.1,613.5 206.8,613.4 207.5,613.4 208.2,613.4 208.9,613.3 209.6,613.3 210.3,613.3 211.0,613.2 211.7,613.2 212.4,613.2 213.1,613.1 213.8,613.1 214.5,613.1 215.2,613.1 215.9,613.1 216.6,613.1 217.3,613.1 218.0,613.1 218.7,613.1 219.4,613.1 220.1,613.1 220.8,613.1 221.5,613.2 222.2,613.2 222.9,613.2 223.6,613.2 224.3,613.3 225.0,613.3 225.7,613.4 226.4,613.4 227.1,613.5 227.8,613.5 228.5,613.6 229.2,613.6 229.9,613.7 230.6,613.7 231.3,613.8 232.0,613.8 232.7,613.8 233.4,613.9 234.1,613.9 234.8,614.0 235.5,614.0 236.2,614.1 236.9,614.1 237.6,614.1 238.3,614.2 239.0,614.2 239.7,614.2 240.4,614.2 241.1,614.2 241.8,614.2 242.5,614.2 243.2,614.2 243.9,614.2 244.6,614.2 245.3,614.2 246.0,614.2 246.7,614.2 247.4,614.2 248.1,614.2 248.8,614.2 249.5,614.2 250.2,614.2 250.9,614.2 251.6,614.2 252.3,614.2 253.0,614.2 253.7,614.2 254.4,614.2 255.1,614.2 255.8,614.2 256.5,614.2 257.2,614.2 257.9,614.2 258.6,614.2 259.3,614.2 260.0,614.2 260.7,614.2 261.4,614.2 262.1,614.2 262.8,614.2 263.5,614.2 264.2,614.2 264.9,614.2 265.6,614.2 266.3,614.2 267.0,614.2 267.7,614.2 268.4,614.2 269.1,614.2 269.8,614.2 270.5,614.2 271.2,614.2 271.9,614.2 272.6,614.2 273.3,614.2 274.0,614.2 274.7,614.2 275.4,614.2" fill="none" stroke="#1a1a1a" stroke-width="1.0" stroke-linejoin="round"/>
<polyline points="38.1,614.2 38.8,614.2 39.5,614.2 40.2,614.2 40.9,614.2 41.6,614.2 42.3,614.2 43.0,614.2 43.7,614.2 44.4,614.2 45.1,614.2 45.8,614.2 46.5,614.2 47.2,614.2 47.9,614.2 48.6,614.2 49.3,614.2 50.0,614.2 50.7,614.2 51.4,614.2 52.1,614.2 52.8,614.2 53.5,614.2 54.2,614.2 54.9,614.2 55.6,614.2 56.3,614.2 57.0,614.2 57.7,614.2 58.4,614.2 59.1,614.2 59.8,614.2 60.5,614.2 61.2,614.2 61.9,614.2 62.6,614.2 63.3,614.2 64.0,614.2 64.7,614.2 65.4,614.2 66.1,614.2 66.8,614.2 67.5,614.2 68.2,614.2 68.9,614.2 69.6,614.2 70.3,614.2 71.0,614.2 71.7,614.2 72.4,614.2 73.1,614.2 73.8,614.2 74.5,614.2 75.2,614.2 75.9,614.2 76.6,614.2 77.3,614.2 78.0,614.2 78.7,614.2 79.4,614.2 80.1,614.2 80.8,614.2 81.5,614.2 82.2,614.2 82.9,614.2 83.6,614.2 84.3,614.2 85.0,614.2 85.7,614.2 86.4,614.2 87.1,614.2 87.8,614.2 88.5,614.2 89.2,614.2 89.9,614.2 90.6,614.2 91.3,614.2 92.0,614.2 92.7,614.2 93.4,614.2 94.1,614.2 94.8,614.2 95.5,614.2 96.2,614.2 96.9,614.2 97.6,614.2 98.3,614.2 99.0,614.2 99.7,614.2 100.4,614.2 101.1,614.2 101.8,614.2 102.5,614.2 103.2,614.2 103.9,614.2 104.6,614.2 105.3,614.2 106.0,614.2 106.7,614.1 107.4,614.1 108.1,614.1 108.8,614.1 109.5,614.0 110.2,614.0 110.9,613.9 111.6,613.9 112.3,613.8 113.0,613.8 113.7,613.7 114.4,613.6 115.1,613.6 115.8,613.5 116.5,613.4 117.2,613.3 117.9,613.1 118.6,613.0 119.3,612.8 120.0,612.7 120.7,612.5 121.4,612.3 122.1,612.0 122.8,611.8 123.5,611.5 124.2,611.1 124.9,610.8 125.6,610.4 126.3,609.9 127.0,609.4 127.7,608.8 128.4,608.2 129.1,607.6 129.8,606.8 130.5,606.0 131.2,605.1 131.9,604.1 132.6,603.1 133.3,601.9 134.0,600.6 134.7,599.2 135.4,597.7 136.1,596.1 136.8,594.3 137.5,592.4 138.2,590.4 138.9,588.2 139.6,585.9 140.3,583.4 141.0,580.7 141.7,577.8 142.4,574.8 143.1,571.7 143.8,568.3 144.5,564.8 145.2,561.2 145.9,557.4 146.6,553.5 147.3,549.4 148.0,545.2 148.7,541.0 149.4,536.6 150.1,532.3 150.8,527.9 151.5,523.5 152.2,519.3 152.9,515.1 153.6,511.1 154.3,507.4 155.0,503.9 155.7,500.9 156.4,498.4 157.1,496.6 157.8,496.4 158.5,497.8 159.2,499.9 159.9,502.5 160.6,505.4 161.3,508.7 162.0,512.2 162.7,515.8 163.4,519.6 164.1,523.5 164.8,527.5 165.5,531.5 166.2,535.4 166.9,539.4 167.6,543.3 168.3,547.1 169.0,550.9 169.7,554.5 170.4,558.1 171.1,561.5 171.8,564.8 172.5,568.0 173.2,571.1 173.9,574.0 174.6,576.8 175.3,579.4 176.0,581.9 176.7,584.3 177.4,586.5 178.1,588.6 178.8,590.6 179.5,592.4 180.2,594.1 180.9,595.8 181.6,597.3 182.3,598.7 183.0,599.9 183.7,601.1 184.4,602.2 185.1,603.3 185.8,604.2 186.5,605.1 187.2,605.8 187.9,606.6 188.6,607.2 189.3,607.8 190.0,608.3 190.7,608.8 191.4,609.2 192.1,609.6 192.8,610.0 193.5,610.3 194.2,610.5 194.9,610.7 195.6,610.9 196.3,611.1 197.0,611.2 197.7,611.3 198.4,611.4 199.1,611.4 199.8,611.4 200.5,611.4 201.2,611.4 201.9,611.4 202.6,611.3 203.3,611.3 204.0,611.2 204.7,611.1 205.4,611.0 206.1,610.9 206.8,610.8 207.5,610.7 208.2,610.6 208.9,610.5 209.6,610.4 210.3,610.3 211.0,610.2 211.7,610.1 212.4,610.0 213.1,609.9 213.8,609.8 214.5,609.8 215.2,609.7 215.9,609.7 216.6,609.7 217.3,609.6 218.0,609.7 218.7,609.7 219.4,609.7 220.1,609.8 220.8,609.8 221.5,609.9 222.2,610.0 222.9,610.1 223.6,610.2 224.3,610.3 225.0,610.5 225.7,610.6 226.4,610.8 227.1,610.9 227.8,611.1 228.5,611.3 229.2,611.4 229.9,611.6 230.6,611.8 231.3,611.9 232.0,612.1 232.7,612.3 233.4,612.4 234.1,612.6 234.8,612.7 235.5,612.9 236.2,613.0 236.9,613.1 237.6,613.2 238.3,613.4 239.0,613.5 239.7,613.6 240.4,613.7 241.1,613.7 241.8,613.8 242.5,613.9 243.2,614.0 243.9,614.0 244.6,614.1 245.3,614.1 246.0,614.2 246.7,614.2 247.4,614.2 248.1,614.2 248.8,614.2 249.5,614.2 250.2,614.2 250.9,614.2 251.6,614.2 252.3,614.2 253.0,614.2 253.7,614.2 254.4,614.2 255.1,614.2 255.8,614.2 256.5,614.2 257.2,614.2 257.9,614.2 258.6,614.2 259.3,614.2 260.0,614.2 260.7,614.2 261.4,614.2 262.1,614.2 262.8,614.2 263.5,614.2 264.2,614.2 264.9,614.2 265.6,614.2 266.3,614.2 267.0,614.2 267.7,614.2 268.4,614.2 269.1,614.2 269.8,614.2 270.5,614.2 271.2,614.2 271.9,614.2 272.6,614.2 273.3,614.2 274.0,614.2 274.7,614.2 275.4,614.2" fill="none" stroke="#3b5ba8" stroke-width="1.0" stroke-linejoin="round"/>
<polyline points="38.1,614.2 38.8,614.2 39.5,614.2 40.2,614.2 40.9,614.2 41.6,614.2 42.3,614.2 43.0,614.2 43.7,614.2 44.4,614.2 45.1,614.2 45.8,614.2 46.5,614.2 47.2,614.2 47.9,614.2 48.6,614.2 49.3,614.2 50.0,614.2 50.7,614.2 51.4,614.2 52.1,614.2 52.8,614.2 53.5,614.2 54.2,614.2 54.9,614.2 55.6,614.2 56.3,614.2 57.0,614.2 57.7,614.2 58.4,614.2 59.1,614.2 59.8,614.2 60.5,614.2 61.2,614.2 61.9,614.2 62.6,614.2 63.3,614.2 64.0,614.2 64.7,614.2 65.4,614.2 66.1,614.2 66.8,614.2 67.5,614.2 68.2,614.2 68.9,614.2 69.6,614.2 70.3,614.2 71.0,614.2 71.7,614.2 72.4,614.2 73.1,614.2 73.8,614.2 74.5,614.2 75.2,614.2 75.9,614.2 76.6,614.2 77.3,614.2 78.0,614.2 78.7,614.2 79.4,614.2 80.1,614.2 80.8,614.2 81.5,614.2 82.2,614.2 82.9,614.2 83.6,614.2 84.3,614.2 85.0,614.2 85.7,614.2 86.4,614.2 87.1,614.2 87.8,614.2 88.5,614.2 89.2,614.2 89.9,614.2 90.6,614.2 91.3,614.2 92.0,614.2 92.7,614.2 93.4,614.2 94.1,614.2 94.8,614.2 95.5,614.2 96.2,614.2 96.9,614.2 97.6,614.2 98.3,614.2 99.0,614.2 99.7,614.2 100.4,614.2 101.1,614.2 101.8,614.2 102.5,614.2 103.2,614.2 103.9,614.2 104.6,614.2 105.3,614.2 106.0,614.2 106.7,614.2 107.4,614.2 108.1,614.2 108.8,614.2 109.5,614.2 110.2,614.2 110.9,614.1 111.6,614.1 112.3,614.1 113.0,614.0 113.7,614.0 114.4,613.9 115.1,613.9 115.8,613.8 116.5,613.8 117.2,613.7 117.9,613.6 118.6,613.5 119.3,613.4 120.0,613.3 120.7,613.2 121.4,613.0 122.1,612.9 122.8,612.7 123.5,612.5 124.2,612.2 124.9,612.0 125.6,611.7 126.3,611.4 127.0,611.0 127.7,610.6 128.4,610.2 129.1,609.7 129.8,609.2 130.5,608.6 131.2,607.9 131.9,607.2 132.6,606.4 133.3,605.5 134.0,604.5 134.7,603.5 135.4,602.3 136.1,601.0 136.8,599.6 137.5,598.1 138.2,596.5 138.9,594.7 139.6,592.7 140.3,590.7 141.0,588.4 141.7,586.0 142.4,583.4 143.1,580.7 143.8,577.7 144.5,574.6 145.2,571.3 145.9,567.7 146.6,564.0 147.3,560.2 148.0,556.1 148.7,551.9 149.4,547.5 150.1,543.0 150.8,538.3 151.5,533.5 152.2,528.7 152.9,523.8 153.6,518.9 154.3,514.0 155.0,509.1 155.7,504.4 156.4,499.9 157.1,495.5 157.8,491.6 158.5,488.0 159.2,485.0 159.9,482.8 160.6,481.8 161.3,483.2 162.0,485.5 162.7,488.4 163.4,491.8 164.1,495.6 164.8,499.7 165.5,504.0 166.2,508.4 166.9,513.0 167.6,517.6 168.3,522.3 169.0,527.0 169.7,531.6 170.4,536.1 171.1,540.6 171.8,545.0 172.5,549.2 173.2,553.3 173.9,557.3 174.6,561.1 175.3,564.7 176.0,568.2 176.7,571.5 177.4,574.6 178.1,577.6 178.8,580.4 179.5,583.0 180.2,585.5 180.9,587.8 181.6,590.0 182.3,592.0 183.0,593.9 183.7,595.6 184.4,597.2 185.1,598.7 185.8,600.1 186.5,601.4 187.2,602.5 187.9,603.6 188.6,604.6 189.3,605.5 190.0,606.3 190.7,607.0 191.4,607.7 192.1,608.3 192.8,608.8 193.5,609.3 194.2,609.7 194.9,610.1 195.6,610.4 196.3,610.7 197.0,611.0 197.7,611.2 198.4,611.4 199.1,611.5 199.8,611.7 200.5,611.8 201.2,611.9 201.9,611.9 202.6,612.0 203.3,612.0 204.0,612.0 204.7,612.0 205.4,612.0 206.1,612.0 206.8,612.0 207.5,612.0 208.2,611.9 208.9,611.9 209.6,611.8 210.3,611.8 211.0,611.8 211.7,611.7 212.4,611.7 213.1,611.6 213.8,611.6 214.5,611.6 215.2,611.6 215.9,611.6 216.6,611.6 217.3,611.6 218.0,611.6 218.7,611.6 219.4,611.6 220.1,611.7 220.8,611.7 221.5,611.7 222.2,611.8 222.9,611.9 223.6,611.9 224.3,612.0 225.0,612.1 225.7,612.2 226.4,612.3 227.1,612.4 227.8,612.5 228.5,612.6 229.2,612.7 229.9,612.8 230.6,612.9 231.3,613.0 232.0,613.1 232.7,613.2 233.4,613.3 234.1,613.3 234.8,613.4 235.5,613.5 236.2,613.6 236.9,613.7 237.6,613.7 238.3,613.8 239.0,613.9 239.7,613.9 240.4,614.0 241.1,614.0 241.8,614.1 242.5,614.1 243.2,614.2 243.9,614.2 244.6,614.2 245.3,614.2 246.0,614.2 246.7,614.2 247.4,614.2 248.1,614.2 248.8,614.2 249.5,614.2 250.2,614.2 250.9,614.2 251.6,614.2 252.3,614.2 253.0,614.2 253.7,614.2 254.4,614.2 255.1,614.2 255.8,614.2 256.5,614.2 257.2,614.2 257.9,614.2 258.6,614.2 259.3,614.2 260.0,614.2 260.7,614.2 261.4,614.2 262.1,614.2 262.8,614.2 263.5,614.2 264.2,614.2 264.9,614.2 265.6,614.2 266.3,614.2 267.0,614.2 267.7,614.2 268.4,614.2 269.1,614.2 269.8,614.2 270.5,614.2 271.2,614.2 271.9,614.2 272.6,614.2 273.3,614.2 274.0,614.2 274.7,614.2 275.4,614.2" fill="none" stroke="#8cc63f" stroke-width="1.0" stroke-linejoin="round"/>
<polyline points="38.1,614.2 38.8,614.2 39.5,614.2 40.2,614.2 40.9,614.2 41.6,614.2 42.3,614.2 43.0,614.2 43.7,614.2 44.4,614.2 45.1,614.2 45.8,614.2 46.5,614.2 47.2,614.2 47.9,614.2 48.6,614.2 49.3,614.2 50.0,614.2 50.7,614.2 51.4,614.2 52.1,614.2 52.8,614.2 53.5,614.2 54.2,614.2 54.9,614.2 55.6,614.2 56.3,614.2 57.0,614.2 57.7,614.2 58.4,614.2 59.1,614.2 59.8,614.2 60.5,614.2 61.2,614.2 61.9,614.2 62.6,614.2 63.3,614.2 64.0,614.2 64.7,614.2 65.4,614.2 66.1,614.2 66.8,614.2 67.5,614.2 68.2,614.2 68.9,614.2 69.6,614.2 70.3,614.2 71.0,614.2 71.7,614.2 72.4,614.2 73.1,614.2 73.8,614.2 74.5,614.2 75.2,614.2 75.9,614.2 76.6,614.2 77.3,614.2 78.0,614.2 78.7,614.2 79.4,614.2 80.1,614.2 80.8,614.2 81.5,614.2 82.2,614.2 82.9,614.2 83.6,614.2 84.3,614.2 85.0,614.2 85.7,614.2 86.4,614.2 87.1,614.2 87.8,614.2 88.5,614.2 89.2,614.2 89.9,614.2 90.6,614.2 91.3,614.2 92.0,614.2 92.7,614.2 93.4,614.2 94.1,614.2 94.8,614.2 95.5,614.2 96.2,614.2 96.9,614.2 97.6,614.2 98.3,614.2 99.0,614.2 99.7,614.2 100.4,614.2 101.1,614.2 101.8,614.2 102.5,614.2 103.2,614.2 103.9,614.2 104.6,614.2 105.3,614.1 106.0,614.1 106.7,614.1 107.4,614.0 108.1,614.0 108.8,614.0 109.5,613.9 110.2,613.9 110.9,613.8 111.6,613.7 112.3,613.7 113.0,613.6 113.7,613.5 114.4,613.4 115.1,613.3 115.8,613.2 116.5,613.0 117.2,612.9 117.9,612.7 118.6,612.5 119.3,612.3 120.0,612.1 120.7,611.8 121.4,611.5 122.1,611.2 122.8,610.8 123.5,610.4 124.2,609.9 124.9,609.4 125.6,608.9 126.3,608.3 127.0,607.6 127.7,606.9 128.4,606.0 129.1,605.1 129.8,604.1 130.5,603.1 131.2,601.9 131.9,600.6 132.6,599.2 133.3,597.7 134.0,596.0 134.7,594.2 135.4,592.3 136.1,590.2 136.8,588.0 137.5,585.6 138.2,583.0 138.9,580.2 139.6,577.3 140.3,574.2 141.0,571.0 141.7,567.5 142.4,563.9 143.1,560.1 143.8,556.2 144.5,552.1 145.2,547.8 145.9,543.4 146.6,538.9 147.3,534.4 148.0,529.8 148.7,525.1 149.4,520.4 150.1,515.9 150.8,511.3 151.5,507.0 152.2,502.9 152.9,499.0 153.6,495.5 154.3,492.5 155.0,490.2 155.7,488.8 156.4,489.5 157.1,491.3 157.8,493.8 158.5,496.7 159.2,500.0 159.9,503.6 160.6,507.4 161.3,511.3 162.0,515.4 162.7,519.6 163.4,523.8 164.1,528.1 164.8,532.3 165.5,536.5 166.2,540.6 166.9,544.6 167.6,548.6 168.3,552.4 169.0,556.2 169.7,559.8 170.4,563.2 171.1,566.6 171.8,569.7 172.5,572.8 173.2,575.7 173.9,578.4 174.6,581.0 175.3,583.5 176.0,585.8 176.7,587.9 177.4,590.0 178.1,591.9 178.8,593.7 179.5,595.3 180.2,596.9 180.9,598.3 181.6,599.7 182.3,600.9 183.0,602.0 183.7,603.1 184.4,604.1 185.1,604.9 185.8,605.7 186.5,606.5 187.2,607.2 187.9,607.8 188.6,608.3 189.3,608.8 190.0,609.3 190.7,609.7 191.4,610.0 192.1,610.3 192.8,610.6 193.5,610.8 194.2,611.0 194.9,611.2 195.6,611.3 196.3,611.4 197.0,611.5 197.7,611.6 198.4,611.6 199.1,611.6 199.8,611.6 200.5,611.6 201.2,611.5 201.9,611.5 202.6,611.4 203.3,611.3 204.0,611.2 204.7,611.1 205.4,611.0 206.1,610.9 206.8,610.7 207.5,610.6 208.2,610.5 208.9,610.4 209.6,610.2 210.3,610.1 211.0,610.0 211.7,609.9 212.4,609.8 213.1,609.7 213.8,609.6 214.5,609.5 215.2,609.5 215.9,609.4 216.6,609.4 217.3,609.4 218.0,609.4 218.7,609.4 219.4,609.5 220.1,609.5 220.8,609.6 221.5,609.7 222.2,609.8 222.9,609.9 223.6,610.0 224.3,610.1 225.0,610.3 225.7,610.4 226.4,610.6 227.1,610.7 227.8,610.9 228.5,611.1 229.2,611.3 229.9,611.4 230.6,611.6 231.3,611.8 232.0,612.0 232.7,612.1 233.4,612.3 234.1,612.5 234.8,612.6 235.5,612.8 236.2,612.9 236.9,613.0 237.6,613.2 238.3,613.3 239.0,613.4 239.7,613.5 240.4,613.6 241.1,613.7 241.8,613.8 242.5,613.9 243.2,613.9 243.9,614.0 244.6,614.1 245.3,614.1 246.0,614.2 246.7,614.2 247.4,614.2 248.1,614.2 248.8,614.2 249.5,614.2 250.2,614.2 250.9,614.2 251.6,614.2 252.3,614.2 253.0,614.2 253.7,614.2 254.4,614.2 255.1,614.2 255.8,614.2 256.5,614.2 257.2,614.2 257.9,614.2 258.6,614.2 259.3,614.2 260.0,614.2 260.7,614.2 261.4,614.2 262.1,614.2 262.8,614.2 263.5,614.2 264.2,614.2 264.9,614.2 265.6,614.2 266.3,614.2 267.0,614.2 267.7,614.2 268.4,614.2 269.1,614.2 269.8,614.2 270.5,614.2 271.2,614.2 271.9,614.2 272.6,614.2 273.3,614.2 274.0,614.2 274.7,614.2 275.4,614.2" fill="none" stroke="#e0242c" stroke-width="1.0" stroke-linejoin="round"/>
<polyline points="38.1,614.2 38.8,614.2 39.5,614.2 40.2,614.2 40.9,614.2 41.6,614.2 42.3,614.2 43.0,614.2 43.7,614.2 44.4,614.2 45.1,614.2 45.8,614.2 46.5,614.2 47.2,614.2 47.9,614.2 48.6,614.2 49.3,614.2 50.0,614.2 50.7,614.2 51.4,614.2 52.1,614.2 52.8,614.2 53.5,614.2 54.2,614.2 54.9,614.2 55.6,614.2 56.3,614.2 57.0,614.2 57.7,614.2 58.4,614.2 59.1,614.2 59.8,614.2 60.5,614.2 61.2,614.2 61.9,614.2 62.6,614.2 63.3,614.2 64.0,614.2 64.7,614.2 65.4,614.2 66.1,614.2 66.8,614.2 67.5,614.2 68.2,614.2 68.9,614.2 69.6,614.2 70.3,614.2 71.0,614.2 71.7,614.2 72.4,614.2 73.1,614.2 73.8,614.2 74.5,614.2 75.2,614.2 75.9,614.2 76.6,614.2 77.3,614.2 78.0,614.2 78.7,614.2 79.4,614.2 80.1,614.2 80.8,614.2 81.5,614.2 82.2,614.2 82.9,614.2 83.6,614.2 84.3,614.2 85.0,614.2 85.7,614.2 86.4,614.2 87.1,614.2 87.8,614.2 88.5,614.2 89.2,614.2 89.9,614.2 90.6,614.2 91.3,614.2 92.0,614.2 92.7,614.2 93.4,614.2 94.1,614.2 94.8,614.2 95.5,614.2 96.2,614.2 96.9,614.2 97.6,614.2 98.3,614.2 99.0,614.2 99.7,614.2 100.4,614.2 101.1,614.2 101.8,614.2 102.5,614.2 103.2,614.1 103.9,614.1 104.6,614.1 105.3,614.0 106.0,614.0 106.7,614.0 107.4,613.9 108.1,613.9 108.8,613.8 109.5,613.7 110.2,613.7 110.9,613.6 111.6,613.5 112.3,613.4 113.0,613.3 113.7,613.2 114.4,613.0 115.1,612.9 115.8,612.7 116.5,612.5 117.2,612.3 117.9,612.1 118.6,611.8 119.3,611.5 120.0,611.2 120.7,610.8 121.4,610.4 122.1,610.0 122.8,609.5 123.5,608.9 124.2,608.3 124.9,607.6 125.6,606.9 126.3,606.0 127.0,605.1 127.7,604.1 128.4,603.0 129.1,601.8 129.8,600.5 130.5,599.1 131.2,597.6 131.9,595.9 132.6,594.1 133.3,592.1 134.0,590.0 134.7,587.7 135.4,585.2 136.1,582.6 136.8,579.8 137.5,576.8 138.2,573.7 138.9,570.3 139.6,566.8 140.3,563.0 141.0,559.1 141.7,555.0 142.4,550.8 143.1,546.4 143.8,541.8 144.5,537.2 145.2,532.4 145.9,527.6 146.6,522.7 147.3,517.8 148.0,512.9 148.7,508.1 149.4,503.5 150.1,499.0 150.8,494.8 151.5,491.0 152.2,487.6 152.9,484.8 153.6,482.9 154.3,482.6 155.0,484.2 155.7,486.5 156.4,489.4 157.1,492.7 157.8,496.3 158.5,500.2 159.2,504.3 159.9,508.6 160.6,512.9 161.3,517.3 162.0,521.8 162.7,526.2 163.4,530.7 164.1,535.0 164.8,539.3 165.5,543.5 166.2,547.6 166.9,551.6 167.6,555.4 168.3,559.1 169.0,562.7 169.7,566.1 170.4,569.4 171.1,572.5 171.8,575.4 172.5,578.2 173.2,580.9 173.9,583.3 174.6,585.7 175.3,587.9 176.0,590.0 176.7,591.9 177.4,593.7 178.1,595.4 178.8,597.0 179.5,598.4 180.2,599.8 180.9,601.0 181.6,602.1 182.3,603.2 183.0,604.2 183.7,605.1 184.4,605.9 185.1,606.6 185.8,607.3 186.5,607.9 187.2,608.5 187.9,609.0 188.6,609.5 189.3,609.9 190.0,610.3 190.7,610.6 191.4,610.9 192.1,611.2 192.8,611.4 193.5,611.6 194.2,611.8 194.9,611.9 195.6,612.0 196.3,612.1 197.0,612.2 197.7,612.3 198.4,612.3 199.1,612.4 199.8,612.4 200.5,612.4 201.2,612.3 201.9,612.3 202.6,612.3 203.3,612.2 204.0,612.2 204.7,612.1 205.4,612.0 206.1,612.0 206.8,611.9 207.5,611.8 208.2,611.7 208.9,611.7 209.6,611.6 210.3,611.5 211.0,611.4 211.7,611.4 212.4,611.3 213.1,611.2 213.8,611.2 214.5,611.1 215.2,611.1 215.9,611.1 216.6,611.1 217.3,611.1 218.0,611.1 218.7,611.1 219.4,611.1 220.1,611.1 220.8,611.2 221.5,611.2 222.2,611.3 222.9,611.4 223.6,611.5 224.3,611.6 225.0,611.7 225.7,611.8 226.4,611.9 227.1,612.0 227.8,612.1 228.5,612.2 229.2,612.3 229.9,612.4 230.6,612.6 231.3,612.7 232.0,612.8 232.7,612.9 233.4,613.0 234.1,613.1 234.8,613.2 235.5,613.3 236.2,613.4 236.9,613.5 237.6,613.6 238.3,613.7 239.0,613.8 239.7,613.8 240.4,613.9 241.1,614.0 241.8,614.0 242.5,614.1 243.2,614.1 243.9,614.2 244.6,614.2 245.3,614.2 246.0,614.2 246.7,614.2 247.4,614.2 248.1,614.2 248.8,614.2 249.5,614.2 250.2,614.2 250.9,614.2 251.6,614.2 252.3,614.2 253.0,614.2 253.7,614.2 254.4,614.2 255.1,614.2 255.8,614.2 256.5,614.2 257.2,614.2 257.9,614.2 258.6,614.2 259.3,614.2 260.0,614.2 260.7,614.2 261.4,614.2 262.1,614.2 262.8,614.2 263.5,614.2 264.2,614.2 264.9,614.2 265.6,614.2 266.3,614.2 267.0,614.2 267.7,614.2 268.4,614.2 269.1,614.2 269.8,614.2 270.5,614.2 271.2,614.2 271.9,614.2 272.6,614.2 273.3,614.2 274.0,614.2 274.7,614.2 275.4,614.2" fill="none" stroke="#f2e234" stroke-width="1.0" stroke-linejoin="round"/>
<line x1="327.60" y1="28.60" x2="327.60" y2="126.60" stroke="#2a2a2a" stroke-width="1.2" />
<line x1="327.60" y1="126.60" x2="462.80" y2="126.60" stroke="#2a2a2a" stroke-width="1.2" />
<line x1="326.00" y1="126.70" x2="327.60" y2="126.70" stroke="#222" stroke-width="0.9" />
<text transform="translate(322.60,129.45) scale(0.93,1)" font-size="8.0" text-anchor="end" font-weight="normal" fill="#222"  stroke="#222" stroke-width="0.18">0</text>
<line x1="326.00" y1="108.94" x2="327.60" y2="108.94" stroke="#222" stroke-width="0.9" />
<text transform="translate(322.60,111.69) scale(0.93,1)" font-size="8.0" text-anchor="end" font-weight="normal" fill="#222"  stroke="#222" stroke-width="0.18">20</text>
<line x1="326.00" y1="91.18" x2="327.60" y2="91.18" stroke="#222" stroke-width="0.9" />
<text transform="translate(322.60,93.93) scale(0.93,1)" font-size="8.0" text-anchor="end" font-weight="normal" fill="#222"  stroke="#222" stroke-width="0.18">40</text>
<line x1="326.00" y1="73.42" x2="327.60" y2="73.42" stroke="#222" stroke-width="0.9" />
<text transform="translate(322.60,76.17) scale(0.93,1)" font-size="8.0" text-anchor="end" font-weight="normal" fill="#222"  stroke="#222" stroke-width="0.18">60</text>
<line x1="326.00" y1="55.66" x2="327.60" y2="55.66" stroke="#222" stroke-width="0.9" />
<text transform="translate(322.60,58.41) scale(0.93,1)" font-size="8.0" text-anchor="end" font-weight="normal" fill="#222"  stroke="#222" stroke-width="0.18">80</text>
<line x1="326.00" y1="37.90" x2="327.60" y2="37.90" stroke="#222" stroke-width="0.9" />
<text transform="translate(322.60,40.65) scale(0.93,1)" font-size="8.0" text-anchor="end" font-weight="normal" fill="#222"  stroke="#222" stroke-width="0.18">100</text>
<line x1="327.60" y1="126.60" x2="327.60" y2="128.20" stroke="#222" stroke-width="0.9" />
<text transform="translate(327.60,138.55) scale(0.93,1)" font-size="8.0" text-anchor="middle" font-weight="normal" fill="#222"  stroke="#222" stroke-width="0.18">0</text>
<line x1="350.00" y1="126.60" x2="350.00" y2="128.20" stroke="#222" stroke-width="0.9" />
<text transform="translate(350.00,138.55) scale(0.93,1)" font-size="8.0" text-anchor="middle" font-weight="normal" fill="#222"  stroke="#222" stroke-width="0.18">0.1</text>
<line x1="372.50" y1="126.60" x2="372.50" y2="128.20" stroke="#222" stroke-width="0.9" />
<text transform="translate(372.50,138.55) scale(0.93,1)" font-size="8.0" text-anchor="middle" font-weight="normal" fill="#222"  stroke="#222" stroke-width="0.18">0.5</text>
<line x1="395.00" y1="126.60" x2="395.00" y2="128.20" stroke="#222" stroke-width="0.9" />
<text transform="translate(395.00,138.55) scale(0.93,1)" font-size="8.0" text-anchor="middle" font-weight="normal" fill="#222"  stroke="#222" stroke-width="0.18">1</text>
<line x1="417.20" y1="126.60" x2="417.20" y2="128.20" stroke="#222" stroke-width="0.9" />
<text transform="translate(417.20,138.55) scale(0.93,1)" font-size="8.0" text-anchor="middle" font-weight="normal" fill="#222"  stroke="#222" stroke-width="0.18">10</text>
<line x1="439.70" y1="126.60" x2="439.70" y2="128.20" stroke="#222" stroke-width="0.9" />
<text transform="translate(439.70,138.55) scale(0.93,1)" font-size="8.0" text-anchor="middle" font-weight="normal" fill="#222"  stroke="#222" stroke-width="0.18">100</text>
<text x="395.6" y="150.3" font-size="7.7" text-anchor="middle" font-weight="bold" fill="#151515"  stroke="#151515" stroke-width="0.18">Doxorubicin (µM)</text>
<text x="326.9" y="17.8" font-size="7.6" text-anchor="start" font-weight="normal" fill="#2a2a2a"  stroke="#2a2a2a" stroke-width="0.18">H460</text>
<text transform="translate(304.3,76.7) rotate(-90)" font-size="7.8" text-anchor="middle" font-weight="bold" fill="#111" stroke="#111" stroke-width="0.22">Viable Cells (%)</text>
<line x1="393.30" y1="29.90" x2="437.00" y2="29.90" stroke="#000" stroke-width="1.6" />
<circle cx="415.15" cy="29.90" r="2.40" fill="#000"/>
<text x="441.1" y="32.5" font-size="7.6" text-anchor="start" font-weight="normal" fill="#2a2a2a"  stroke="#2a2a2a" stroke-width="0.18">Vector</text>
<line x1="394.20" y1="39.00" x2="396.60" y2="39.00" stroke="#000" stroke-width="1.6" />
<line x1="398.90" y1="39.00" x2="410.55" y2="39.00" stroke="#000" stroke-width="1.6" />
<line x1="419.75" y1="39.00" x2="431.40" y2="39.00" stroke="#000" stroke-width="1.6" />
<line x1="433.70" y1="39.00" x2="436.10" y2="39.00" stroke="#000" stroke-width="1.6" />
<circle cx="415.15" cy="39.00" r="2.05" fill="#fff" stroke="#000" stroke-width="1.3"/>
<text x="441.1" y="41.6" font-size="7.6" text-anchor="start" font-weight="normal" fill="#2a2a2a"  stroke="#2a2a2a" stroke-width="0.18">CAV1</text>
<line x1="394.30" y1="49.30" x2="437.00" y2="49.30" stroke="#000" stroke-width="1.6" stroke-dasharray="2.6,2.1"/>
<path d="M411.95,46.60 L418.35,46.60 L415.15,52.40 Z" fill="#000"/>
<text x="441.1" y="51.9" font-size="7.6" text-anchor="start" font-weight="normal" fill="#2a2a2a"  stroke="#2a2a2a" stroke-width="0.18">CAV1(176R)</text>
<polyline points="327.60,41.45 350.00,70.31 372.50,94.20 395.00,99.44 417.20,100.68 439.70,113.47" fill="none" stroke="#000" stroke-width="1.85" stroke-dasharray="10.5,2.4,2,2.4" stroke-linejoin="round"/>
<polyline points="327.60,37.90 350.00,55.66 372.50,84.08 395.00,92.96 417.20,97.40 439.70,111.34" fill="none" stroke="#000" stroke-width="1.85"  stroke-linejoin="round"/>
<polyline points="327.60,37.19 350.00,35.24 372.50,71.20 395.00,87.89 417.20,87.10 439.70,104.50" fill="none" stroke="#000" stroke-width="1.85" stroke-dasharray="2.6,2.1" stroke-linejoin="round"/>
<line x1="350.00" y1="50.16" x2="350.00" y2="61.16" stroke="#000" stroke-width="0.9" />
<line x1="348.10" y1="50.16" x2="351.90" y2="50.16" stroke="#000" stroke-width="0.95" />
<line x1="348.10" y1="61.16" x2="351.90" y2="61.16" stroke="#000" stroke-width="0.95" />
<line x1="350.00" y1="33.24" x2="350.00" y2="37.24" stroke="#000" stroke-width="0.9" />
<line x1="348.10" y1="33.24" x2="351.90" y2="33.24" stroke="#000" stroke-width="0.95" />
<line x1="348.10" y1="37.24" x2="351.90" y2="37.24" stroke="#000" stroke-width="0.95" />
<line x1="372.50" y1="69.70" x2="372.50" y2="72.70" stroke="#000" stroke-width="0.9" />
<line x1="370.60" y1="69.70" x2="374.40" y2="69.70" stroke="#000" stroke-width="0.95" />
<line x1="370.60" y1="72.70" x2="374.40" y2="72.70" stroke="#000" stroke-width="0.95" />
<line x1="327.60" y1="35.90" x2="327.60" y2="39.90" stroke="#000" stroke-width="0.9" />
<line x1="325.70" y1="35.90" x2="329.50" y2="35.90" stroke="#000" stroke-width="0.95" />
<line x1="325.70" y1="39.90" x2="329.50" y2="39.90" stroke="#000" stroke-width="0.95" />
<circle cx="327.60" cy="41.45" r="1.30" fill="#fff" stroke="#000" stroke-width="0.9"/>
<circle cx="350.00" cy="70.31" r="1.30" fill="#fff" stroke="#000" stroke-width="0.9"/>
<circle cx="372.50" cy="94.20" r="1.30" fill="#fff" stroke="#000" stroke-width="0.9"/>
<circle cx="395.00" cy="99.44" r="1.30" fill="#fff" stroke="#000" stroke-width="0.9"/>
<circle cx="417.20" cy="100.68" r="1.30" fill="#fff" stroke="#000" stroke-width="0.9"/>
<circle cx="439.70" cy="113.47" r="1.30" fill="#fff" stroke="#000" stroke-width="0.9"/>
<circle cx="327.60" cy="37.90" r="1.63" fill="#000"/>
<circle cx="350.00" cy="55.66" r="1.63" fill="#000"/>
<circle cx="372.50" cy="84.08" r="1.63" fill="#000"/>
<circle cx="395.00" cy="92.96" r="1.63" fill="#000"/>
<circle cx="417.20" cy="97.40" r="1.63" fill="#000"/>
<circle cx="439.70" cy="111.34" r="1.63" fill="#000"/>
<path d="M325.63,35.49 L329.57,35.49 L327.60,39.09 Z" fill="#000"/>
<path d="M348.03,33.54 L351.97,33.54 L350.00,37.14 Z" fill="#000"/>
<path d="M370.53,69.50 L374.47,69.50 L372.50,73.10 Z" fill="#000"/>
<path d="M393.03,86.19 L396.97,86.19 L395.00,89.79 Z" fill="#000"/>
<path d="M415.23,85.40 L419.17,85.40 L417.20,89.00 Z" fill="#000"/>
<path d="M437.73,102.80 L441.67,102.80 L439.70,106.40 Z" fill="#000"/>
<circle cx="350.00" cy="25.50" r="1.25" fill="#6a6a6a"/>
<circle cx="372.50" cy="59.60" r="1.25" fill="#6a6a6a"/>
<circle cx="395.00" cy="79.70" r="1.25" fill="#6a6a6a"/>
<circle cx="417.20" cy="78.90" r="1.25" fill="#6a6a6a"/>
<circle cx="439.70" cy="96.50" r="1.25" fill="#6a6a6a"/>
<line x1="528.20" y1="28.50" x2="528.20" y2="126.60" stroke="#1e1e1e" stroke-width="1.2" />
<line x1="528.20" y1="126.60" x2="663.60" y2="126.60" stroke="#1e1e1e" stroke-width="1.2" />
<line x1="526.60" y1="126.70" x2="528.20" y2="126.70" stroke="#222" stroke-width="0.9" />
<text transform="translate(523.20,129.45) scale(0.93,1)" font-size="8.0" text-anchor="end" font-weight="normal" fill="#222"  stroke="#222" stroke-width="0.18">0</text>
<line x1="526.60" y1="108.26" x2="528.20" y2="108.26" stroke="#222" stroke-width="0.9" />
<text transform="translate(523.20,111.01) scale(0.93,1)" font-size="8.0" text-anchor="end" font-weight="normal" fill="#222"  stroke="#222" stroke-width="0.18">20</text>
<line x1="526.60" y1="89.82" x2="528.20" y2="89.82" stroke="#222" stroke-width="0.9" />
<text transform="translate(523.20,92.57) scale(0.93,1)" font-size="8.0" text-anchor="end" font-weight="normal" fill="#222"  stroke="#222" stroke-width="0.18">40</text>
<line x1="526.60" y1="71.38" x2="528.20" y2="71.38" stroke="#222" stroke-width="0.9" />
<text transform="translate(523.20,74.13) scale(0.93,1)" font-size="8.0" text-anchor="end" font-weight="normal" fill="#222"  stroke="#222" stroke-width="0.18">60</text>
<line x1="526.60" y1="52.94" x2="528.20" y2="52.94" stroke="#222" stroke-width="0.9" />
<text transform="translate(523.20,55.69) scale(0.93,1)" font-size="8.0" text-anchor="end" font-weight="normal" fill="#222"  stroke="#222" stroke-width="0.18">80</text>
<line x1="526.60" y1="34.50" x2="528.20" y2="34.50" stroke="#222" stroke-width="0.9" />
<text transform="translate(523.20,37.25) scale(0.93,1)" font-size="8.0" text-anchor="end" font-weight="normal" fill="#222"  stroke="#222" stroke-width="0.18">100</text>
<line x1="528.20" y1="126.60" x2="528.20" y2="128.20" stroke="#222" stroke-width="0.9" />
<text transform="translate(528.20,138.55) scale(0.93,1)" font-size="8.0" text-anchor="middle" font-weight="normal" fill="#222"  stroke="#222" stroke-width="0.18">0</text>
<line x1="550.70" y1="126.60" x2="550.70" y2="128.20" stroke="#222" stroke-width="0.9" />
<text transform="translate(550.70,138.55) scale(0.93,1)" font-size="8.0" text-anchor="middle" font-weight="normal" fill="#222"  stroke="#222" stroke-width="0.18">0.1</text>
<line x1="573.30" y1="126.60" x2="573.30" y2="128.20" stroke="#222" stroke-width="0.9" />
<text transform="translate(573.30,138.55) scale(0.93,1)" font-size="8.0" text-anchor="middle" font-weight="normal" fill="#222"  stroke="#222" stroke-width="0.18">0.5</text>
<line x1="595.80" y1="126.60" x2="595.80" y2="128.20" stroke="#222" stroke-width="0.9" />
<text transform="translate(595.80,138.55) scale(0.93,1)" font-size="8.0" text-anchor="middle" font-weight="normal" fill="#222"  stroke="#222" stroke-width="0.18">1</text>
<line x1="618.40" y1="126.60" x2="618.40" y2="128.20" stroke="#222" stroke-width="0.9" />
<text transform="translate(618.40,138.55) scale(0.93,1)" font-size="8.0" text-anchor="middle" font-weight="normal" fill="#222"  stroke="#222" stroke-width="0.18">10</text>
<line x1="640.20" y1="126.60" x2="640.20" y2="128.20" stroke="#222" stroke-width="0.9" />
<text transform="translate(640.20,138.55) scale(0.93,1)" font-size="8.0" text-anchor="middle" font-weight="normal" fill="#222"  stroke="#222" stroke-width="0.18">100</text>
<text x="597.4" y="150.0" font-size="7.7" text-anchor="middle" font-weight="bold" fill="#151515"  stroke="#151515" stroke-width="0.18">Doxorubicin (µM)</text>
<text x="529.4" y="15.6" font-size="7.6" text-anchor="start" font-weight="normal" fill="#2a2a2a"  stroke="#2a2a2a" stroke-width="0.18">A549</text>
<text transform="translate(504.8,77.7) rotate(-90)" font-size="7.7" text-anchor="middle" font-weight="normal" fill="#333" stroke="#333" stroke-width="0.18">Viable Cells (%)</text>
<line x1="594.50" y1="21.00" x2="638.30" y2="21.00" stroke="#000" stroke-width="1.6" />
<circle cx="616.40" cy="21.00" r="2.40" fill="#000"/>
<text x="642.7" y="23.6" font-size="7.6" text-anchor="start" font-weight="normal" fill="#2a2a2a"  stroke="#2a2a2a" stroke-width="0.18">Vector</text>
<line x1="595.40" y1="29.90" x2="597.80" y2="29.90" stroke="#000" stroke-width="1.6" />
<line x1="600.10" y1="29.90" x2="611.80" y2="29.90" stroke="#000" stroke-width="1.6" />
<line x1="621.00" y1="29.90" x2="632.70" y2="29.90" stroke="#000" stroke-width="1.6" />
<line x1="635.00" y1="29.90" x2="637.40" y2="29.90" stroke="#000" stroke-width="1.6" />
<circle cx="616.40" cy="29.90" r="2.05" fill="#fff" stroke="#000" stroke-width="1.3"/>
<text x="642.7" y="32.5" font-size="7.6" text-anchor="start" font-weight="normal" fill="#2a2a2a"  stroke="#2a2a2a" stroke-width="0.18">CAV1</text>
<line x1="595.50" y1="40.40" x2="638.30" y2="40.40" stroke="#000" stroke-width="1.6" stroke-dasharray="2.6,2.1"/>
<path d="M613.20,37.70 L619.60,37.70 L616.40,43.50 Z" fill="#000"/>
<text x="642.7" y="43.0" font-size="7.6" text-anchor="start" font-weight="normal" fill="#2a2a2a"  stroke="#2a2a2a" stroke-width="0.18">CAV1(176R)</text>
<polyline points="528.20,31.73 550.70,68.61 573.30,75.99 595.80,82.91 618.40,104.57 640.20,120.25" fill="none" stroke="#000" stroke-width="1.85" stroke-dasharray="10.5,2.4,2,2.4" stroke-linejoin="round"/>
<polyline points="528.20,33.58 550.70,66.31 573.30,72.49 595.80,81.98 618.40,103.65 640.20,119.78" fill="none" stroke="#000" stroke-width="1.85"  stroke-linejoin="round"/>
<line x1="528.20" y1="32.66" x2="550.70" y2="61.24" stroke="#000" stroke-width="1.85" stroke-dasharray="2.6,2.1" stroke-linecap="butt"/>
<line x1="550.70" y1="61.24" x2="573.30" y2="66.31" stroke="#000" stroke-width="1.2"  stroke-linecap="butt"/>
<line x1="573.30" y1="66.31" x2="595.80" y2="72.03" stroke="#000" stroke-width="1.85" stroke-dasharray="4,2.2" stroke-linecap="butt"/>
<line x1="595.80" y1="72.03" x2="618.40" y2="95.08" stroke="#000" stroke-width="1.85" stroke-dasharray="2.6,2.1" stroke-linecap="butt"/>
<line x1="618.40" y1="95.08" x2="640.20" y2="114.71" stroke="#000" stroke-width="1.85" stroke-dasharray="2.6,2.1" stroke-linecap="butt"/>
<line x1="618.40" y1="93.08" x2="618.40" y2="97.08" stroke="#000" stroke-width="0.9" />
<line x1="616.50" y1="93.08" x2="620.30" y2="93.08" stroke="#000" stroke-width="0.95" />
<line x1="616.50" y1="97.08" x2="620.30" y2="97.08" stroke="#000" stroke-width="0.95" />
<line x1="618.40" y1="101.65" x2="618.40" y2="105.65" stroke="#000" stroke-width="0.9" />
<line x1="616.50" y1="101.65" x2="620.30" y2="101.65" stroke="#000" stroke-width="0.95" />
<line x1="616.50" y1="105.65" x2="620.30" y2="105.65" stroke="#000" stroke-width="0.95" />
<line x1="528.20" y1="31.58" x2="528.20" y2="35.58" stroke="#000" stroke-width="0.9" />
<line x1="526.30" y1="31.58" x2="530.10" y2="31.58" stroke="#000" stroke-width="0.95" />
<line x1="526.30" y1="35.58" x2="530.10" y2="35.58" stroke="#000" stroke-width="0.95" />
<circle cx="528.20" cy="31.73" r="1.30" fill="#fff" stroke="#000" stroke-width="0.9"/>
<circle cx="550.70" cy="68.61" r="1.30" fill="#fff" stroke="#000" stroke-width="0.9"/>
<circle cx="573.30" cy="75.99" r="1.30" fill="#fff" stroke="#000" stroke-width="0.9"/>
<circle cx="595.80" cy="82.91" r="1.30" fill="#fff" stroke="#000" stroke-width="0.9"/>
<circle cx="618.40" cy="104.57" r="1.30" fill="#fff" stroke="#000" stroke-width="0.9"/>
<circle cx="640.20" cy="120.25" r="1.30" fill="#fff" stroke="#000" stroke-width="0.9"/>
<circle cx="528.20" cy="33.58" r="1.63" fill="#000"/>
<circle cx="550.70" cy="66.31" r="1.63" fill="#000"/>
<circle cx="573.30" cy="72.49" r="1.63" fill="#000"/>
<circle cx="595.80" cy="81.98" r="1.63" fill="#000"/>
<circle cx="618.40" cy="103.65" r="1.63" fill="#000"/>
<circle cx="640.20" cy="119.78" r="1.63" fill="#000"/>
<path d="M526.23,30.96 L530.17,30.96 L528.20,34.56 Z" fill="#000"/>
<path d="M548.73,59.54 L552.67,59.54 L550.70,63.14 Z" fill="#000"/>
<path d="M571.33,64.61 L575.27,64.61 L573.30,68.21 Z" fill="#000"/>
<path d="M593.83,70.33 L597.77,70.33 L595.80,73.93 Z" fill="#000"/>
<path d="M616.43,93.38 L620.37,93.38 L618.40,96.98 Z" fill="#000"/>
<path d="M638.23,113.01 L642.17,113.01 L640.20,116.61 Z" fill="#000"/>
<circle cx="573.30" cy="57.20" r="1.25" fill="#6a6a6a"/>
<circle cx="595.80" cy="65.30" r="1.25" fill="#6a6a6a"/>
<line x1="327.60" y1="200.00" x2="327.60" y2="298.70" stroke="#4a4a4a" stroke-width="1.2" />
<line x1="327.60" y1="298.70" x2="462.70" y2="298.70" stroke="#4a4a4a" stroke-width="1.2" />
<line x1="326.00" y1="299.00" x2="327.60" y2="299.00" stroke="#222" stroke-width="0.9" />
<text transform="translate(322.60,301.75) scale(0.93,1)" font-size="8.0" text-anchor="end" font-weight="normal" fill="#222"  stroke="#222" stroke-width="0.18">0</text>
<line x1="326.00" y1="279.64" x2="327.60" y2="279.64" stroke="#222" stroke-width="0.9" />
<text transform="translate(322.60,282.39) scale(0.93,1)" font-size="8.0" text-anchor="end" font-weight="normal" fill="#222"  stroke="#222" stroke-width="0.18">20</text>
<line x1="326.00" y1="260.28" x2="327.60" y2="260.28" stroke="#222" stroke-width="0.9" />
<text transform="translate(322.60,263.03) scale(0.93,1)" font-size="8.0" text-anchor="end" font-weight="normal" fill="#222"  stroke="#222" stroke-width="0.18">40</text>
<line x1="326.00" y1="240.92" x2="327.60" y2="240.92" stroke="#222" stroke-width="0.9" />
<text transform="translate(322.60,243.67) scale(0.93,1)" font-size="8.0" text-anchor="end" font-weight="normal" fill="#222"  stroke="#222" stroke-width="0.18">60</text>
<line x1="326.00" y1="221.56" x2="327.60" y2="221.56" stroke="#222" stroke-width="0.9" />
<text transform="translate(322.60,224.31) scale(0.93,1)" font-size="8.0" text-anchor="end" font-weight="normal" fill="#222"  stroke="#222" stroke-width="0.18">80</text>
<line x1="326.00" y1="202.20" x2="327.60" y2="202.20" stroke="#222" stroke-width="0.9" />
<text transform="translate(322.60,204.95) scale(0.93,1)" font-size="8.0" text-anchor="end" font-weight="normal" fill="#222"  stroke="#222" stroke-width="0.18">100</text>
<line x1="327.60" y1="298.70" x2="327.60" y2="300.30" stroke="#222" stroke-width="0.9" />
<text transform="translate(327.60,311.65) scale(0.93,1)" font-size="8.0" text-anchor="middle" font-weight="normal" fill="#222"  stroke="#222" stroke-width="0.18">0</text>
<line x1="350.00" y1="298.70" x2="350.00" y2="300.30" stroke="#222" stroke-width="0.9" />
<text transform="translate(350.00,311.65) scale(0.93,1)" font-size="8.0" text-anchor="middle" font-weight="normal" fill="#222"  stroke="#222" stroke-width="0.18">1</text>
<line x1="372.60" y1="298.70" x2="372.60" y2="300.30" stroke="#222" stroke-width="0.9" />
<text transform="translate(372.60,311.65) scale(0.93,1)" font-size="8.0" text-anchor="middle" font-weight="normal" fill="#222"  stroke="#222" stroke-width="0.18">10</text>
<line x1="395.00" y1="298.70" x2="395.00" y2="300.30" stroke="#222" stroke-width="0.9" />
<text transform="translate(395.00,311.65) scale(0.93,1)" font-size="8.0" text-anchor="middle" font-weight="normal" fill="#222"  stroke="#222" stroke-width="0.18">25</text>
<line x1="417.70" y1="298.70" x2="417.70" y2="300.30" stroke="#222" stroke-width="0.9" />
<text transform="translate(417.70,311.65) scale(0.93,1)" font-size="8.0" text-anchor="middle" font-weight="normal" fill="#222"  stroke="#222" stroke-width="0.18">50</text>
<line x1="439.90" y1="298.70" x2="439.90" y2="300.30" stroke="#222" stroke-width="0.9" />
<text transform="translate(439.90,311.65) scale(0.93,1)" font-size="8.0" text-anchor="middle" font-weight="normal" fill="#222"  stroke="#222" stroke-width="0.18">100</text>
<text x="400.9" y="322.9" font-size="7.7" text-anchor="middle" font-weight="bold" fill="#151515"  stroke="#151515" stroke-width="0.18">Cisplatin (µM)</text>
<text x="327.2" y="190.3" font-size="7.6" text-anchor="start" font-weight="normal" fill="#2a2a2a"  stroke="#2a2a2a" stroke-width="0.18">H460</text>
<text transform="translate(304.7,249.2) rotate(-90)" font-size="7.7" text-anchor="middle" font-weight="normal" fill="#333" stroke="#333" stroke-width="0.18">Viable Cells (%)</text>
<line x1="394.10" y1="198.10" x2="438.10" y2="198.10" stroke="#000" stroke-width="1.6" />
<circle cx="416.10" cy="198.10" r="2.40" fill="#000"/>
<text x="442.1" y="200.7" font-size="7.6" text-anchor="start" font-weight="normal" fill="#2a2a2a"  stroke="#2a2a2a" stroke-width="0.18">Vector</text>
<line x1="395.00" y1="207.20" x2="397.40" y2="207.20" stroke="#000" stroke-width="1.6" />
<line x1="399.70" y1="207.20" x2="411.50" y2="207.20" stroke="#000" stroke-width="1.6" />
<line x1="420.70" y1="207.20" x2="432.50" y2="207.20" stroke="#000" stroke-width="1.6" />
<line x1="434.80" y1="207.20" x2="437.20" y2="207.20" stroke="#000" stroke-width="1.6" />
<circle cx="416.10" cy="207.20" r="2.05" fill="#fff" stroke="#000" stroke-width="1.3"/>
<text x="442.1" y="209.8" font-size="7.6" text-anchor="start" font-weight="normal" fill="#2a2a2a"  stroke="#2a2a2a" stroke-width="0.18">CAV1</text>
<line x1="395.10" y1="217.30" x2="438.10" y2="217.30" stroke="#000" stroke-width="1.6" stroke-dasharray="2.6,2.1"/>
<path d="M412.90,214.60 L419.30,214.60 L416.10,220.40 Z" fill="#000"/>
<text x="442.1" y="219.9" font-size="7.6" text-anchor="start" font-weight="normal" fill="#2a2a2a"  stroke="#2a2a2a" stroke-width="0.18">CAV1(176R)</text>
<polyline points="327.60,202.20 350.00,211.30 372.60,245.47 395.00,268.70 417.70,282.54 439.90,286.90" fill="none" stroke="#000" stroke-width="1.85" stroke-dasharray="10.5,2.4,2,2.4" stroke-linejoin="round"/>
<polyline points="327.60,202.20 350.00,205.30 372.60,236.47 395.00,262.70 417.70,283.22 439.90,287.38" fill="none" stroke="#000" stroke-width="1.85"  stroke-linejoin="round"/>
<polyline points="327.60,202.20 350.00,206.17 372.60,227.37 395.00,250.60 417.70,276.45 439.90,286.42" fill="none" stroke="#000" stroke-width="1.85" stroke-dasharray="2.6,2.1" stroke-linejoin="round"/>
<line x1="350.00" y1="202.80" x2="350.00" y2="207.80" stroke="#000" stroke-width="0.9" />
<line x1="348.10" y1="202.80" x2="351.90" y2="202.80" stroke="#000" stroke-width="0.95" />
<line x1="348.10" y1="207.80" x2="351.90" y2="207.80" stroke="#000" stroke-width="0.95" />
<line x1="372.60" y1="224.87" x2="372.60" y2="229.87" stroke="#000" stroke-width="0.9" />
<line x1="370.70" y1="224.87" x2="374.50" y2="224.87" stroke="#000" stroke-width="0.95" />
<line x1="370.70" y1="229.87" x2="374.50" y2="229.87" stroke="#000" stroke-width="0.95" />
<line x1="372.60" y1="242.47" x2="372.60" y2="248.47" stroke="#000" stroke-width="0.9" />
<line x1="370.70" y1="242.47" x2="374.50" y2="242.47" stroke="#000" stroke-width="0.95" />
<line x1="370.70" y1="248.47" x2="374.50" y2="248.47" stroke="#000" stroke-width="0.95" />
<line x1="395.00" y1="247.60" x2="395.00" y2="253.60" stroke="#000" stroke-width="0.9" />
<line x1="393.10" y1="247.60" x2="396.90" y2="247.60" stroke="#000" stroke-width="0.95" />
<line x1="393.10" y1="253.60" x2="396.90" y2="253.60" stroke="#000" stroke-width="0.95" />
<line x1="395.00" y1="265.70" x2="395.00" y2="271.70" stroke="#000" stroke-width="0.9" />
<line x1="393.10" y1="265.70" x2="396.90" y2="265.70" stroke="#000" stroke-width="0.95" />
<line x1="393.10" y1="271.70" x2="396.90" y2="271.70" stroke="#000" stroke-width="0.95" />
<line x1="417.70" y1="279.72" x2="417.70" y2="286.72" stroke="#000" stroke-width="0.9" />
<line x1="415.80" y1="279.72" x2="419.60" y2="279.72" stroke="#000" stroke-width="0.95" />
<line x1="415.80" y1="286.72" x2="419.60" y2="286.72" stroke="#000" stroke-width="0.95" />
<line x1="417.70" y1="274.45" x2="417.70" y2="278.45" stroke="#000" stroke-width="0.9" />
<line x1="415.80" y1="274.45" x2="419.60" y2="274.45" stroke="#000" stroke-width="0.95" />
<line x1="415.80" y1="278.45" x2="419.60" y2="278.45" stroke="#000" stroke-width="0.95" />
<circle cx="327.60" cy="202.20" r="1.30" fill="#fff" stroke="#000" stroke-width="0.9"/>
<circle cx="350.00" cy="211.30" r="1.30" fill="#fff" stroke="#000" stroke-width="0.9"/>
<circle cx="372.60" cy="245.47" r="1.30" fill="#fff" stroke="#000" stroke-width="0.9"/>
<circle cx="395.00" cy="268.70" r="1.30" fill="#fff" stroke="#000" stroke-width="0.9"/>
<circle cx="417.70" cy="282.54" r="1.30" fill="#fff" stroke="#000" stroke-width="0.9"/>
<circle cx="439.90" cy="286.90" r="1.30" fill="#fff" stroke="#000" stroke-width="0.9"/>
<circle cx="327.60" cy="202.20" r="1.63" fill="#000"/>
<circle cx="350.00" cy="205.30" r="1.63" fill="#000"/>
<circle cx="372.60" cy="236.47" r="1.63" fill="#000"/>
<circle cx="395.00" cy="262.70" r="1.63" fill="#000"/>
<circle cx="417.70" cy="283.22" r="1.63" fill="#000"/>
<circle cx="439.90" cy="287.38" r="1.63" fill="#000"/>
<path d="M325.63,200.50 L329.57,200.50 L327.60,204.10 Z" fill="#000"/>
<path d="M348.03,204.47 L351.97,204.47 L350.00,208.07 Z" fill="#000"/>
<path d="M370.63,225.67 L374.57,225.67 L372.60,229.27 Z" fill="#000"/>
<path d="M393.03,248.90 L396.97,248.90 L395.00,252.50 Z" fill="#000"/>
<path d="M415.73,274.75 L419.67,274.75 L417.70,278.35 Z" fill="#000"/>
<path d="M437.93,284.72 L441.87,284.72 L439.90,288.32 Z" fill="#000"/>
<circle cx="372.60" cy="216.70" r="1.25" fill="#6a6a6a"/>
<circle cx="395.00" cy="240.90" r="1.25" fill="#6a6a6a"/>
<line x1="528.60" y1="202.10" x2="528.60" y2="298.70" stroke="#2a2a2a" stroke-width="1.2" />
<line x1="528.60" y1="298.70" x2="663.60" y2="298.70" stroke="#2a2a2a" stroke-width="1.2" />
<line x1="527.00" y1="289.10" x2="528.60" y2="289.10" stroke="#222" stroke-width="0.9" />
<text transform="translate(523.60,291.85) scale(0.93,1)" font-size="8.0" text-anchor="end" font-weight="normal" fill="#222"  stroke="#222" stroke-width="0.18">20</text>
<line x1="527.00" y1="269.90" x2="528.60" y2="269.90" stroke="#222" stroke-width="0.9" />
<text transform="translate(523.60,272.65) scale(0.93,1)" font-size="8.0" text-anchor="end" font-weight="normal" fill="#222"  stroke="#222" stroke-width="0.18">40</text>
<line x1="527.00" y1="250.70" x2="528.60" y2="250.70" stroke="#222" stroke-width="0.9" />
<text transform="translate(523.60,253.45) scale(0.93,1)" font-size="8.0" text-anchor="end" font-weight="normal" fill="#222"  stroke="#222" stroke-width="0.18">60</text>
<line x1="527.00" y1="231.50" x2="528.60" y2="231.50" stroke="#222" stroke-width="0.9" />
<text transform="translate(523.60,234.25) scale(0.93,1)" font-size="8.0" text-anchor="end" font-weight="normal" fill="#222"  stroke="#222" stroke-width="0.18">80</text>
<line x1="527.00" y1="212.30" x2="528.60" y2="212.30" stroke="#222" stroke-width="0.9" />
<text transform="translate(523.60,215.05) scale(0.93,1)" font-size="8.0" text-anchor="end" font-weight="normal" fill="#222"  stroke="#222" stroke-width="0.18">100</text>
<line x1="528.60" y1="298.70" x2="528.60" y2="300.30" stroke="#222" stroke-width="0.9" />
<text transform="translate(528.60,311.65) scale(0.93,1)" font-size="8.0" text-anchor="middle" font-weight="normal" fill="#222"  stroke="#222" stroke-width="0.18">0</text>
<line x1="555.20" y1="298.70" x2="555.20" y2="300.30" stroke="#222" stroke-width="0.9" />
<text transform="translate(555.20,311.65) scale(0.93,1)" font-size="8.0" text-anchor="middle" font-weight="normal" fill="#222"  stroke="#222" stroke-width="0.18">5</text>
<line x1="582.30" y1="298.70" x2="582.30" y2="300.30" stroke="#222" stroke-width="0.9" />
<text transform="translate(582.30,311.65) scale(0.93,1)" font-size="8.0" text-anchor="middle" font-weight="normal" fill="#222"  stroke="#222" stroke-width="0.18">10</text>
<line x1="608.80" y1="298.70" x2="608.80" y2="300.30" stroke="#222" stroke-width="0.9" />
<text transform="translate(608.80,311.65) scale(0.93,1)" font-size="8.0" text-anchor="middle" font-weight="normal" fill="#222"  stroke="#222" stroke-width="0.18">50</text>
<line x1="635.80" y1="298.70" x2="635.80" y2="300.30" stroke="#222" stroke-width="0.9" />
<text transform="translate(635.80,311.65) scale(0.93,1)" font-size="8.0" text-anchor="middle" font-weight="normal" fill="#222"  stroke="#222" stroke-width="0.18">100</text>
<text x="601.3" y="322.8" font-size="7.7" text-anchor="middle" font-weight="bold" fill="#151515"  stroke="#151515" stroke-width="0.18">Cisplatin (µM)</text>
<text x="528.2" y="189.5" font-size="7.6" text-anchor="start" font-weight="normal" fill="#2a2a2a"  stroke="#2a2a2a" stroke-width="0.18">A549</text>
<text transform="translate(505.2,249.9) rotate(-90)" font-size="7.7" text-anchor="middle" font-weight="normal" fill="#333" stroke="#333" stroke-width="0.18">Viable Cells (%)</text>
<line x1="593.90" y1="199.70" x2="636.70" y2="199.70" stroke="#000" stroke-width="1.6" />
<circle cx="615.30" cy="199.70" r="2.40" fill="#000"/>
<text x="642.3" y="202.3" font-size="7.6" text-anchor="start" font-weight="normal" fill="#2a2a2a"  stroke="#2a2a2a" stroke-width="0.18">Vector</text>
<line x1="594.80" y1="209.00" x2="597.20" y2="209.00" stroke="#000" stroke-width="1.6" />
<line x1="599.50" y1="209.00" x2="610.70" y2="209.00" stroke="#000" stroke-width="1.6" />
<line x1="619.90" y1="209.00" x2="631.10" y2="209.00" stroke="#000" stroke-width="1.6" />
<line x1="633.40" y1="209.00" x2="635.80" y2="209.00" stroke="#000" stroke-width="1.6" />
<circle cx="615.30" cy="209.00" r="2.05" fill="#fff" stroke="#000" stroke-width="1.3"/>
<text x="642.3" y="211.6" font-size="7.6" text-anchor="start" font-weight="normal" fill="#2a2a2a"  stroke="#2a2a2a" stroke-width="0.18">CAV1</text>
<line x1="594.90" y1="218.80" x2="636.70" y2="218.80" stroke="#000" stroke-width="1.6" stroke-dasharray="2.6,2.1"/>
<path d="M612.10,216.10 L618.50,216.10 L615.30,221.90 Z" fill="#000"/>
<text x="642.3" y="221.4" font-size="7.6" text-anchor="start" font-weight="normal" fill="#2a2a2a"  stroke="#2a2a2a" stroke-width="0.18">CAV1(176R)</text>
<polyline points="528.60,211.82 555.20,222.38 582.30,232.94 608.80,276.43 635.80,294.38" fill="none" stroke="#000" stroke-width="1.85" stroke-dasharray="10.5,2.4,2,2.4" stroke-linejoin="round"/>
<polyline points="528.60,212.30 555.20,221.61 582.30,231.79 608.80,281.13 635.80,294.09" fill="none" stroke="#000" stroke-width="1.85"  stroke-linejoin="round"/>
<polyline points="528.60,212.30 555.20,209.13 582.30,218.83 608.80,265.29 635.80,291.31" fill="none" stroke="#000" stroke-width="1.85" stroke-dasharray="2.6,2.1" stroke-linejoin="round"/>
<line x1="528.60" y1="208.30" x2="528.60" y2="216.30" stroke="#000" stroke-width="0.9" />
<line x1="526.70" y1="208.30" x2="530.50" y2="208.30" stroke="#000" stroke-width="0.95" />
<line x1="526.70" y1="216.30" x2="530.50" y2="216.30" stroke="#000" stroke-width="0.95" />
<line x1="555.20" y1="206.13" x2="555.20" y2="212.13" stroke="#000" stroke-width="0.9" />
<line x1="553.30" y1="206.13" x2="557.10" y2="206.13" stroke="#000" stroke-width="0.95" />
<line x1="553.30" y1="212.13" x2="557.10" y2="212.13" stroke="#000" stroke-width="0.95" />
<line x1="555.20" y1="218.61" x2="555.20" y2="224.61" stroke="#000" stroke-width="0.9" />
<line x1="553.30" y1="218.61" x2="557.10" y2="218.61" stroke="#000" stroke-width="0.95" />
<line x1="553.30" y1="224.61" x2="557.10" y2="224.61" stroke="#000" stroke-width="0.95" />
<line x1="582.30" y1="228.79" x2="582.30" y2="234.79" stroke="#000" stroke-width="0.9" />
<line x1="580.40" y1="228.79" x2="584.20" y2="228.79" stroke="#000" stroke-width="0.95" />
<line x1="580.40" y1="234.79" x2="584.20" y2="234.79" stroke="#000" stroke-width="0.95" />
<line x1="608.80" y1="276.63" x2="608.80" y2="285.63" stroke="#000" stroke-width="0.9" />
<line x1="606.90" y1="276.63" x2="610.70" y2="276.63" stroke="#000" stroke-width="0.95" />
<line x1="606.90" y1="285.63" x2="610.70" y2="285.63" stroke="#000" stroke-width="0.95" />
<circle cx="528.60" cy="211.82" r="1.30" fill="#fff" stroke="#000" stroke-width="0.9"/>
<circle cx="555.20" cy="222.38" r="1.30" fill="#fff" stroke="#000" stroke-width="0.9"/>
<circle cx="582.30" cy="232.94" r="1.30" fill="#fff" stroke="#000" stroke-width="0.9"/>
<circle cx="608.80" cy="276.43" r="1.30" fill="#fff" stroke="#000" stroke-width="0.9"/>
<circle cx="635.80" cy="294.38" r="1.30" fill="#fff" stroke="#000" stroke-width="0.9"/>
<circle cx="528.60" cy="212.30" r="1.63" fill="#000"/>
<circle cx="555.20" cy="221.61" r="1.63" fill="#000"/>
<circle cx="582.30" cy="231.79" r="1.63" fill="#000"/>
<circle cx="608.80" cy="281.13" r="1.63" fill="#000"/>
<circle cx="635.80" cy="294.09" r="1.63" fill="#000"/>
<path d="M526.63,210.60 L530.57,210.60 L528.60,214.20 Z" fill="#000"/>
<path d="M553.23,207.43 L557.17,207.43 L555.20,211.03 Z" fill="#000"/>
<path d="M580.33,217.13 L584.27,217.13 L582.30,220.73 Z" fill="#000"/>
<path d="M606.83,263.59 L610.77,263.59 L608.80,267.19 Z" fill="#000"/>
<path d="M633.83,289.61 L637.77,289.61 L635.80,293.21 Z" fill="#000"/>
<circle cx="555.20" cy="198.40" r="1.25" fill="#6a6a6a"/>
<circle cx="582.30" cy="211.60" r="1.25" fill="#6a6a6a"/>
<circle cx="608.80" cy="255.60" r="1.25" fill="#6a6a6a"/>
<circle cx="635.80" cy="284.80" r="1.25" fill="#6a6a6a"/>
<line x1="327.80" y1="359.00" x2="327.80" y2="455.40" stroke="#6e6e6e" stroke-width="1.2" />
<line x1="327.80" y1="455.40" x2="462.90" y2="455.40" stroke="#6e6e6e" stroke-width="1.2" />
<line x1="326.20" y1="455.80" x2="327.80" y2="455.80" stroke="#222" stroke-width="0.9" />
<text transform="translate(322.80,458.55) scale(0.93,1)" font-size="8.0" text-anchor="end" font-weight="normal" fill="#222"  stroke="#222" stroke-width="0.18">20</text>
<line x1="326.20" y1="436.50" x2="327.80" y2="436.50" stroke="#222" stroke-width="0.9" />
<text transform="translate(322.80,439.25) scale(0.93,1)" font-size="8.0" text-anchor="end" font-weight="normal" fill="#222"  stroke="#222" stroke-width="0.18">40</text>
<line x1="326.20" y1="417.20" x2="327.80" y2="417.20" stroke="#222" stroke-width="0.9" />
<text transform="translate(322.80,419.95) scale(0.93,1)" font-size="8.0" text-anchor="end" font-weight="normal" fill="#222"  stroke="#222" stroke-width="0.18">60</text>
<line x1="326.20" y1="397.90" x2="327.80" y2="397.90" stroke="#222" stroke-width="0.9" />
<text transform="translate(322.80,400.65) scale(0.93,1)" font-size="8.0" text-anchor="end" font-weight="normal" fill="#222"  stroke="#222" stroke-width="0.18">80</text>
<line x1="326.20" y1="378.60" x2="327.80" y2="378.60" stroke="#222" stroke-width="0.9" />
<text transform="translate(322.80,381.35) scale(0.93,1)" font-size="8.0" text-anchor="end" font-weight="normal" fill="#222"  stroke="#222" stroke-width="0.18">100</text>
<line x1="326.20" y1="359.30" x2="327.80" y2="359.30" stroke="#222" stroke-width="0.9" />
<text transform="translate(322.80,362.05) scale(0.93,1)" font-size="8.0" text-anchor="end" font-weight="normal" fill="#222"  stroke="#222" stroke-width="0.18">120</text>
<line x1="327.80" y1="455.40" x2="327.80" y2="457.00" stroke="#222" stroke-width="0.9" />
<text transform="translate(327.80,468.75) scale(0.93,1)" font-size="8.0" text-anchor="middle" font-weight="normal" fill="#222"  stroke="#222" stroke-width="0.18">0</text>
<line x1="350.50" y1="455.40" x2="350.50" y2="457.00" stroke="#222" stroke-width="0.9" />
<text transform="translate(350.50,468.75) scale(0.93,1)" font-size="8.0" text-anchor="middle" font-weight="normal" fill="#222"  stroke="#222" stroke-width="0.18">0.05</text>
<line x1="372.70" y1="455.40" x2="372.70" y2="457.00" stroke="#222" stroke-width="0.9" />
<text transform="translate(372.70,468.75) scale(0.93,1)" font-size="8.0" text-anchor="middle" font-weight="normal" fill="#222"  stroke="#222" stroke-width="0.18">0.1</text>
<line x1="395.30" y1="455.40" x2="395.30" y2="457.00" stroke="#222" stroke-width="0.9" />
<text transform="translate(395.30,468.75) scale(0.93,1)" font-size="8.0" text-anchor="middle" font-weight="normal" fill="#222"  stroke="#222" stroke-width="0.18">0.5</text>
<line x1="417.30" y1="455.40" x2="417.30" y2="457.00" stroke="#222" stroke-width="0.9" />
<text transform="translate(417.30,468.75) scale(0.93,1)" font-size="8.0" text-anchor="middle" font-weight="normal" fill="#222"  stroke="#222" stroke-width="0.18">1</text>
<line x1="440.30" y1="455.40" x2="440.30" y2="457.00" stroke="#222" stroke-width="0.9" />
<text transform="translate(440.30,468.75) scale(0.93,1)" font-size="8.0" text-anchor="middle" font-weight="normal" fill="#222"  stroke="#222" stroke-width="0.18">20</text>
<text x="396.3" y="480.0" font-size="7.7" text-anchor="middle" font-weight="bold" fill="#151515"  stroke="#151515" stroke-width="0.18">Paclitaxel (µM)</text>
<text x="326.5" y="345.2" font-size="7.6" text-anchor="start" font-weight="normal" fill="#2a2a2a"  stroke="#2a2a2a" stroke-width="0.18">H460</text>
<text transform="translate(304.7,407.0) rotate(-90)" font-size="7.7" text-anchor="middle" font-weight="normal" fill="#333" stroke="#333" stroke-width="0.18">Viable Cells (%)</text>
<line x1="387.60" y1="359.10" x2="431.00" y2="359.10" stroke="#000" stroke-width="1.6" />
<circle cx="409.30" cy="359.10" r="2.40" fill="#000"/>
<text x="435.3" y="361.7" font-size="7.6" text-anchor="start" font-weight="normal" fill="#2a2a2a"  stroke="#2a2a2a" stroke-width="0.18">Vector</text>
<line x1="388.50" y1="368.20" x2="390.90" y2="368.20" stroke="#000" stroke-width="1.6" />
<line x1="393.20" y1="368.20" x2="404.70" y2="368.20" stroke="#000" stroke-width="1.6" />
<line x1="413.90" y1="368.20" x2="425.40" y2="368.20" stroke="#000" stroke-width="1.6" />
<line x1="427.70" y1="368.20" x2="430.10" y2="368.20" stroke="#000" stroke-width="1.6" />
<circle cx="409.30" cy="368.20" r="2.05" fill="#fff" stroke="#000" stroke-width="1.3"/>
<text x="435.3" y="370.8" font-size="7.6" text-anchor="start" font-weight="normal" fill="#2a2a2a"  stroke="#2a2a2a" stroke-width="0.18">CAV1</text>
<line x1="388.60" y1="378.60" x2="431.00" y2="378.60" stroke="#000" stroke-width="1.6" stroke-dasharray="2.6,2.1"/>
<path d="M406.10,375.90 L412.50,375.90 L409.30,381.70 Z" fill="#000"/>
<text x="435.3" y="381.2" font-size="7.6" text-anchor="start" font-weight="normal" fill="#2a2a2a"  stroke="#2a2a2a" stroke-width="0.18">CAV1(176R)</text>
<polyline points="327.80,375.71 350.50,395.00 372.70,409.48 395.30,419.42 417.30,430.03 440.30,439.78" fill="none" stroke="#000" stroke-width="1.85" stroke-dasharray="10.5,2.4,2,2.4" stroke-linejoin="round"/>
<polyline points="327.80,376.67 350.50,398.87 372.70,404.66 395.30,414.98 417.30,427.81 440.30,433.70" fill="none" stroke="#000" stroke-width="1.85"  stroke-linejoin="round"/>
<polyline points="327.80,370.11 350.50,381.01 372.70,397.22 395.30,408.51 417.30,417.68 440.30,428.88" fill="none" stroke="#000" stroke-width="1.85" stroke-dasharray="2.6,2.1" stroke-linejoin="round"/>
<line x1="327.80" y1="365.11" x2="327.80" y2="375.11" stroke="#000" stroke-width="0.9" />
<line x1="325.90" y1="365.11" x2="329.70" y2="365.11" stroke="#000" stroke-width="0.95" />
<line x1="325.90" y1="375.11" x2="329.70" y2="375.11" stroke="#000" stroke-width="0.95" />
<line x1="350.50" y1="394.87" x2="350.50" y2="402.87" stroke="#000" stroke-width="0.9" />
<line x1="348.60" y1="394.87" x2="352.40" y2="394.87" stroke="#000" stroke-width="0.95" />
<line x1="348.60" y1="402.87" x2="352.40" y2="402.87" stroke="#000" stroke-width="0.95" />
<line x1="350.50" y1="379.01" x2="350.50" y2="383.01" stroke="#000" stroke-width="0.9" />
<line x1="348.60" y1="379.01" x2="352.40" y2="379.01" stroke="#000" stroke-width="0.95" />
<line x1="348.60" y1="383.01" x2="352.40" y2="383.01" stroke="#000" stroke-width="0.95" />
<line x1="372.70" y1="406.98" x2="372.70" y2="411.98" stroke="#000" stroke-width="0.9" />
<line x1="370.80" y1="406.98" x2="374.60" y2="406.98" stroke="#000" stroke-width="0.95" />
<line x1="370.80" y1="411.98" x2="374.60" y2="411.98" stroke="#000" stroke-width="0.95" />
<line x1="395.30" y1="416.42" x2="395.30" y2="422.42" stroke="#000" stroke-width="0.9" />
<line x1="393.40" y1="416.42" x2="397.20" y2="416.42" stroke="#000" stroke-width="0.95" />
<line x1="393.40" y1="422.42" x2="397.20" y2="422.42" stroke="#000" stroke-width="0.95" />
<line x1="395.30" y1="412.98" x2="395.30" y2="416.98" stroke="#000" stroke-width="0.9" />
<line x1="393.40" y1="412.98" x2="397.20" y2="412.98" stroke="#000" stroke-width="0.95" />
<line x1="393.40" y1="416.98" x2="397.20" y2="416.98" stroke="#000" stroke-width="0.95" />
<line x1="417.30" y1="428.53" x2="417.30" y2="431.53" stroke="#000" stroke-width="0.9" />
<line x1="415.40" y1="428.53" x2="419.20" y2="428.53" stroke="#000" stroke-width="0.95" />
<line x1="415.40" y1="431.53" x2="419.20" y2="431.53" stroke="#000" stroke-width="0.95" />
<line x1="440.30" y1="430.70" x2="440.30" y2="436.70" stroke="#000" stroke-width="0.9" />
<line x1="438.40" y1="430.70" x2="442.20" y2="430.70" stroke="#000" stroke-width="0.95" />
<line x1="438.40" y1="436.70" x2="442.20" y2="436.70" stroke="#000" stroke-width="0.95" />
<line x1="440.30" y1="426.88" x2="440.30" y2="430.88" stroke="#000" stroke-width="0.9" />
<line x1="438.40" y1="426.88" x2="442.20" y2="426.88" stroke="#000" stroke-width="0.95" />
<line x1="438.40" y1="430.88" x2="442.20" y2="430.88" stroke="#000" stroke-width="0.95" />
<circle cx="327.80" cy="375.71" r="1.30" fill="#fff" stroke="#000" stroke-width="0.9"/>
<circle cx="350.50" cy="395.00" r="1.30" fill="#fff" stroke="#000" stroke-width="0.9"/>
<circle cx="372.70" cy="409.48" r="1.30" fill="#fff" stroke="#000" stroke-width="0.9"/>
<circle cx="395.30" cy="419.42" r="1.30" fill="#fff" stroke="#000" stroke-width="0.9"/>
<circle cx="417.30" cy="430.03" r="1.30" fill="#fff" stroke="#000" stroke-width="0.9"/>
<circle cx="440.30" cy="439.78" r="1.30" fill="#fff" stroke="#000" stroke-width="0.9"/>
<circle cx="327.80" cy="376.67" r="1.63" fill="#000"/>
<circle cx="350.50" cy="398.87" r="1.63" fill="#000"/>
<circle cx="372.70" cy="404.66" r="1.63" fill="#000"/>
<circle cx="395.30" cy="414.98" r="1.63" fill="#000"/>
<circle cx="417.30" cy="427.81" r="1.63" fill="#000"/>
<circle cx="440.30" cy="433.70" r="1.63" fill="#000"/>
<path d="M325.83,368.41 L329.77,368.41 L327.80,372.01 Z" fill="#000"/>
<path d="M348.53,379.31 L352.47,379.31 L350.50,382.91 Z" fill="#000"/>
<path d="M370.73,395.52 L374.67,395.52 L372.70,399.12 Z" fill="#000"/>
<path d="M393.33,406.81 L397.27,406.81 L395.30,410.41 Z" fill="#000"/>
<path d="M415.33,415.98 L419.27,415.98 L417.30,419.58 Z" fill="#000"/>
<path d="M438.33,427.18 L442.27,427.18 L440.30,430.78 Z" fill="#000"/>
<circle cx="350.50" cy="371.20" r="1.25" fill="#6a6a6a"/>
<circle cx="372.70" cy="387.50" r="1.25" fill="#6a6a6a"/>
<circle cx="395.30" cy="400.90" r="1.25" fill="#6a6a6a"/>
<circle cx="417.30" cy="409.40" r="1.25" fill="#6a6a6a"/>
<circle cx="440.30" cy="419.80" r="1.25" fill="#6a6a6a"/>
<line x1="528.20" y1="359.00" x2="528.20" y2="455.40" stroke="#1e1e1e" stroke-width="1.2" />
<line x1="528.20" y1="455.40" x2="663.50" y2="455.40" stroke="#1e1e1e" stroke-width="1.2" />
<line x1="526.60" y1="455.80" x2="528.20" y2="455.80" stroke="#222" stroke-width="0.9" />
<text transform="translate(523.20,458.55) scale(0.93,1)" font-size="8.0" text-anchor="end" font-weight="normal" fill="#222"  stroke="#222" stroke-width="0.18">20</text>
<line x1="526.60" y1="436.50" x2="528.20" y2="436.50" stroke="#222" stroke-width="0.9" />
<text transform="translate(523.20,439.25) scale(0.93,1)" font-size="8.0" text-anchor="end" font-weight="normal" fill="#222"  stroke="#222" stroke-width="0.18">40</text>
<line x1="526.60" y1="417.20" x2="528.20" y2="417.20" stroke="#222" stroke-width="0.9" />
<text transform="translate(523.20,419.95) scale(0.93,1)" font-size="8.0" text-anchor="end" font-weight="normal" fill="#222"  stroke="#222" stroke-width="0.18">60</text>
<line x1="526.60" y1="397.90" x2="528.20" y2="397.90" stroke="#222" stroke-width="0.9" />
<text transform="translate(523.20,400.65) scale(0.93,1)" font-size="8.0" text-anchor="end" font-weight="normal" fill="#222"  stroke="#222" stroke-width="0.18">80</text>
<line x1="526.60" y1="378.60" x2="528.20" y2="378.60" stroke="#222" stroke-width="0.9" />
<text transform="translate(523.20,381.35) scale(0.93,1)" font-size="8.0" text-anchor="end" font-weight="normal" fill="#222"  stroke="#222" stroke-width="0.18">100</text>
<line x1="526.60" y1="359.30" x2="528.20" y2="359.30" stroke="#222" stroke-width="0.9" />
<text transform="translate(523.20,362.05) scale(0.93,1)" font-size="8.0" text-anchor="end" font-weight="normal" fill="#222"  stroke="#222" stroke-width="0.18">120</text>
<line x1="528.20" y1="455.40" x2="528.20" y2="457.00" stroke="#222" stroke-width="0.9" />
<text transform="translate(528.20,468.75) scale(0.93,1)" font-size="8.0" text-anchor="middle" font-weight="normal" fill="#222"  stroke="#222" stroke-width="0.18">0</text>
<line x1="550.50" y1="455.40" x2="550.50" y2="457.00" stroke="#222" stroke-width="0.9" />
<text transform="translate(550.50,468.75) scale(0.93,1)" font-size="8.0" text-anchor="middle" font-weight="normal" fill="#222"  stroke="#222" stroke-width="0.18">0.05</text>
<line x1="573.30" y1="455.40" x2="573.30" y2="457.00" stroke="#222" stroke-width="0.9" />
<text transform="translate(573.30,468.75) scale(0.93,1)" font-size="8.0" text-anchor="middle" font-weight="normal" fill="#222"  stroke="#222" stroke-width="0.18">0.1</text>
<line x1="596.30" y1="455.40" x2="596.30" y2="457.00" stroke="#222" stroke-width="0.9" />
<text transform="translate(596.30,468.75) scale(0.93,1)" font-size="8.0" text-anchor="middle" font-weight="normal" fill="#222"  stroke="#222" stroke-width="0.18">0.5</text>
<line x1="618.00" y1="455.40" x2="618.00" y2="457.00" stroke="#222" stroke-width="0.9" />
<text transform="translate(618.00,468.75) scale(0.93,1)" font-size="8.0" text-anchor="middle" font-weight="normal" fill="#222"  stroke="#222" stroke-width="0.18">1</text>
<line x1="640.70" y1="455.40" x2="640.70" y2="457.00" stroke="#222" stroke-width="0.9" />
<text transform="translate(640.70,468.75) scale(0.93,1)" font-size="8.0" text-anchor="middle" font-weight="normal" fill="#222"  stroke="#222" stroke-width="0.18">20</text>
<text x="598.2" y="480.0" font-size="7.7" text-anchor="middle" font-weight="bold" fill="#151515"  stroke="#151515" stroke-width="0.18">Paclitaxel (µM)</text>
<text x="529.3" y="346.7" font-size="7.6" text-anchor="start" font-weight="normal" fill="#2a2a2a"  stroke="#2a2a2a" stroke-width="0.18">A549</text>
<text transform="translate(505.6,406.6) rotate(-90)" font-size="7.7" text-anchor="middle" font-weight="normal" fill="#333" stroke="#333" stroke-width="0.18">Viable Cells (%)</text>
<line x1="584.30" y1="357.40" x2="627.30" y2="357.40" stroke="#000" stroke-width="1.6" />
<circle cx="605.80" cy="357.40" r="2.40" fill="#000"/>
<text x="632.1" y="360.0" font-size="7.6" text-anchor="start" font-weight="normal" fill="#2a2a2a"  stroke="#2a2a2a" stroke-width="0.18">Vector</text>
<line x1="585.20" y1="367.50" x2="587.60" y2="367.50" stroke="#000" stroke-width="1.6" />
<line x1="589.90" y1="367.50" x2="601.20" y2="367.50" stroke="#000" stroke-width="1.6" />
<line x1="610.40" y1="367.50" x2="621.70" y2="367.50" stroke="#000" stroke-width="1.6" />
<line x1="624.00" y1="367.50" x2="626.40" y2="367.50" stroke="#000" stroke-width="1.6" />
<circle cx="605.80" cy="367.50" r="2.05" fill="#fff" stroke="#000" stroke-width="1.3"/>
<text x="632.1" y="370.1" font-size="7.6" text-anchor="start" font-weight="normal" fill="#2a2a2a"  stroke="#2a2a2a" stroke-width="0.18">CAV1</text>
<line x1="585.30" y1="378.00" x2="627.30" y2="378.00" stroke="#000" stroke-width="1.6" stroke-dasharray="2.6,2.1"/>
<path d="M602.60,375.30 L609.00,375.30 L605.80,381.10 Z" fill="#000"/>
<text x="632.1" y="380.6" font-size="7.6" text-anchor="start" font-weight="normal" fill="#2a2a2a"  stroke="#2a2a2a" stroke-width="0.18">CAV1(176R)</text>
<line x1="528.20" y1="375.22" x2="550.50" y2="404.66" stroke="#000" stroke-width="1.85" stroke-dasharray="7,2.2" stroke-linecap="butt"/>
<line x1="550.50" y1="404.66" x2="573.30" y2="411.41" stroke="#000" stroke-width="1.85" stroke-dasharray="7,2.2" stroke-linecap="butt"/>
<line x1="573.30" y1="411.41" x2="596.30" y2="431.19" stroke="#000" stroke-width="1.85" stroke-dasharray="7,2.2" stroke-linecap="butt"/>
<line x1="596.30" y1="431.19" x2="618.00" y2="448.08" stroke="#000" stroke-width="1.85" stroke-dasharray="10.5,2.4,2,2.4" stroke-linecap="butt"/>
<line x1="618.00" y1="448.08" x2="640.70" y2="448.56" stroke="#000" stroke-width="1.85" stroke-dasharray="10.5,2.4,2,2.4" stroke-linecap="butt"/>
<line x1="528.20" y1="375.71" x2="550.50" y2="404.37" stroke="#000" stroke-width="1.85"  stroke-linecap="butt"/>
<line x1="550.50" y1="404.37" x2="573.30" y2="404.85" stroke="#000" stroke-width="1.1"  stroke-linecap="butt"/>
<line x1="573.30" y1="404.85" x2="596.30" y2="430.90" stroke="#000" stroke-width="1.1"  stroke-linecap="butt"/>
<line x1="596.30" y1="430.90" x2="618.00" y2="447.79" stroke="#000" stroke-width="1.85"  stroke-linecap="butt"/>
<line x1="618.00" y1="447.79" x2="640.70" y2="448.85" stroke="#000" stroke-width="1.85"  stroke-linecap="butt"/>
<line x1="528.20" y1="374.74" x2="550.50" y2="392.88" stroke="#000" stroke-width="1.85" stroke-dasharray="2.6,2.1" stroke-linecap="butt"/>
<line x1="550.50" y1="392.88" x2="573.30" y2="393.27" stroke="#000" stroke-width="1.85" stroke-dasharray="5.5,2.5" stroke-linecap="butt"/>
<line x1="573.30" y1="393.27" x2="596.30" y2="425.40" stroke="#000" stroke-width="1.85" stroke-dasharray="2.6,2.1" stroke-linecap="butt"/>
<line x1="596.30" y1="425.40" x2="618.00" y2="446.34" stroke="#000" stroke-width="1.85" stroke-dasharray="2.6,2.1" stroke-linecap="butt"/>
<line x1="618.00" y1="446.34" x2="640.70" y2="445.86" stroke="#000" stroke-width="1.85" stroke-dasharray="5.5,2.5" stroke-linecap="butt"/>
<line x1="528.20" y1="370.71" x2="528.20" y2="380.71" stroke="#000" stroke-width="0.9" />
<line x1="526.30" y1="370.71" x2="530.10" y2="370.71" stroke="#000" stroke-width="0.95" />
<line x1="526.30" y1="380.71" x2="530.10" y2="380.71" stroke="#000" stroke-width="0.95" />
<line x1="573.30" y1="402.85" x2="573.30" y2="406.85" stroke="#000" stroke-width="0.9" />
<line x1="571.40" y1="402.85" x2="575.20" y2="402.85" stroke="#000" stroke-width="0.95" />
<line x1="571.40" y1="406.85" x2="575.20" y2="406.85" stroke="#000" stroke-width="0.95" />
<circle cx="528.20" cy="375.22" r="1.30" fill="#fff" stroke="#000" stroke-width="0.9"/>
<circle cx="550.50" cy="404.66" r="1.30" fill="#fff" stroke="#000" stroke-width="0.9"/>
<circle cx="573.30" cy="411.41" r="1.30" fill="#fff" stroke="#000" stroke-width="0.9"/>
<circle cx="596.30" cy="431.19" r="1.30" fill="#fff" stroke="#000" stroke-width="0.9"/>
<circle cx="618.00" cy="448.08" r="1.30" fill="#fff" stroke="#000" stroke-width="0.9"/>
<circle cx="640.70" cy="448.56" r="1.30" fill="#fff" stroke="#000" stroke-width="0.9"/>
<circle cx="528.20" cy="375.71" r="1.63" fill="#000"/>
<circle cx="550.50" cy="404.37" r="1.63" fill="#000"/>
<circle cx="573.30" cy="404.85" r="1.63" fill="#000"/>
<circle cx="596.30" cy="430.90" r="1.63" fill="#000"/>
<circle cx="618.00" cy="447.79" r="1.63" fill="#000"/>
<circle cx="640.70" cy="448.85" r="1.63" fill="#000"/>
<path d="M526.23,373.04 L530.17,373.04 L528.20,376.64 Z" fill="#000"/>
<path d="M548.53,391.18 L552.47,391.18 L550.50,394.78 Z" fill="#000"/>
<path d="M571.33,391.57 L575.27,391.57 L573.30,395.17 Z" fill="#000"/>
<path d="M594.33,423.70 L598.27,423.70 L596.30,427.30 Z" fill="#000"/>
<path d="M616.03,444.64 L619.97,444.64 L618.00,448.24 Z" fill="#000"/>
<path d="M638.73,444.16 L642.67,444.16 L640.70,447.76 Z" fill="#000"/>
<circle cx="550.50" cy="376.60" r="1.25" fill="#6a6a6a"/>
<circle cx="573.30" cy="378.80" r="1.25" fill="#6a6a6a"/>
<circle cx="596.30" cy="409.00" r="1.25" fill="#6a6a6a"/>
<circle cx="618.00" cy="432.20" r="1.25" fill="#6a6a6a"/>
<circle cx="640.70" cy="435.40" r="1.25" fill="#6a6a6a"/>
</svg>
</body></html>
